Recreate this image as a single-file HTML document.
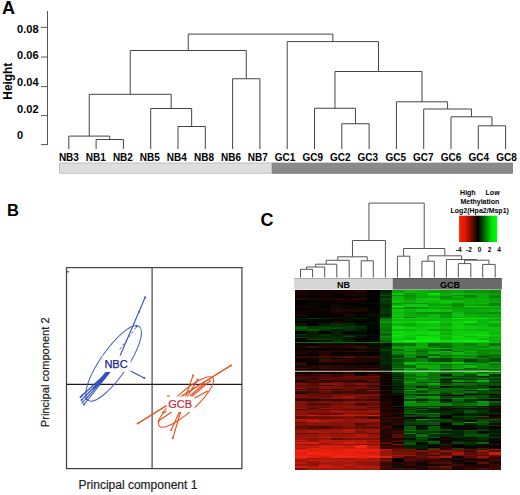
<!DOCTYPE html>
<html><head><meta charset="utf-8"><style>
html,body{margin:0;padding:0;background:#fff;width:520px;height:495px;overflow:hidden}
svg{display:block}
text{font-family:"Liberation Sans",sans-serif}
</style></head><body>
<svg width="520" height="495" viewBox="0 0 520 495">
<text x="1.9" y="14.1" font-size="18" font-weight="bold" font-family="Liberation Sans, sans-serif">A</text>
<path d="M47.5 11V145M41 27.3H47.5M41 57H47.5M41 86.6H47.5M41 115.6H47.5M41 144.6H47.5" stroke="#555" stroke-width="1" fill="none"/>
<text x="17.1" y="32.8" font-size="11" font-weight="bold" font-family="Liberation Sans, sans-serif">0.08</text>
<text x="17.1" y="59.4" font-size="11" font-weight="bold" font-family="Liberation Sans, sans-serif">0.06</text>
<text x="17.1" y="85.9" font-size="11" font-weight="bold" font-family="Liberation Sans, sans-serif">0.04</text>
<text x="17.1" y="112.8" font-size="11" font-weight="bold" font-family="Liberation Sans, sans-serif">0.02</text>
<text x="17.1" y="138.8" font-size="11" font-weight="bold" font-family="Liberation Sans, sans-serif">0</text>
<text transform="translate(11.8,81.2) rotate(-90)" text-anchor="middle" font-size="11.9" font-weight="bold" font-family="Liberation Sans, sans-serif">Height</text>
<path d="M96.10 149.00V139.50H123.40V149.00M68.80 149.00V136.10H109.75V139.50M178.00 149.00V126.50H205.30V149.00M150.70 149.00V108.50H191.65V126.50M89.28 136.10V94.30H171.18V108.50M232.60 149.00V78.75H259.90V149.00M130.23 94.30V50.50H246.25V78.75M341.80 149.00V123.75H369.10V149.00M314.50 149.00V108.25H355.45V123.75M478.30 149.00V125.80H505.60V149.00M451.00 149.00V116.80H491.95V125.80M423.70 149.00V109.00H471.48V116.80M396.40 149.00V101.80H447.59V109.00M334.98 108.25V71.50H421.99V101.80M287.20 149.00V41.60H378.48V71.50M188.24 50.50V34.10H332.84V41.60" stroke="#444" stroke-width="1" fill="none"/>
<text x="68.90" y="160.5" text-anchor="middle" font-size="10" font-weight="bold" font-family="Liberation Sans, sans-serif">NB3</text>
<text x="95.75" y="160.5" text-anchor="middle" font-size="10" font-weight="bold" font-family="Liberation Sans, sans-serif">NB1</text>
<text x="122.90" y="160.5" text-anchor="middle" font-size="10" font-weight="bold" font-family="Liberation Sans, sans-serif">NB2</text>
<text x="149.75" y="160.5" text-anchor="middle" font-size="10" font-weight="bold" font-family="Liberation Sans, sans-serif">NB5</text>
<text x="176.75" y="160.5" text-anchor="middle" font-size="10" font-weight="bold" font-family="Liberation Sans, sans-serif">NB4</text>
<text x="204.00" y="160.5" text-anchor="middle" font-size="10" font-weight="bold" font-family="Liberation Sans, sans-serif">NB8</text>
<text x="231.00" y="160.5" text-anchor="middle" font-size="10" font-weight="bold" font-family="Liberation Sans, sans-serif">NB6</text>
<text x="257.75" y="160.5" text-anchor="middle" font-size="10" font-weight="bold" font-family="Liberation Sans, sans-serif">NB7</text>
<text x="285.00" y="160.5" text-anchor="middle" font-size="10" font-weight="bold" font-family="Liberation Sans, sans-serif">GC1</text>
<text x="312.75" y="160.5" text-anchor="middle" font-size="10" font-weight="bold" font-family="Liberation Sans, sans-serif">GC9</text>
<text x="340.25" y="160.5" text-anchor="middle" font-size="10" font-weight="bold" font-family="Liberation Sans, sans-serif">GC2</text>
<text x="367.75" y="160.5" text-anchor="middle" font-size="10" font-weight="bold" font-family="Liberation Sans, sans-serif">GC3</text>
<text x="395.75" y="160.5" text-anchor="middle" font-size="10" font-weight="bold" font-family="Liberation Sans, sans-serif">GC5</text>
<text x="423.30" y="160.5" text-anchor="middle" font-size="10" font-weight="bold" font-family="Liberation Sans, sans-serif">GC7</text>
<text x="451.10" y="160.5" text-anchor="middle" font-size="10" font-weight="bold" font-family="Liberation Sans, sans-serif">GC6</text>
<text x="478.70" y="160.5" text-anchor="middle" font-size="10" font-weight="bold" font-family="Liberation Sans, sans-serif">GC4</text>
<text x="506.50" y="160.5" text-anchor="middle" font-size="10" font-weight="bold" font-family="Liberation Sans, sans-serif">GC8</text>
<rect x="59.6" y="163" width="212.3" height="10.2" fill="#dedede" stroke="#b4b4b4" stroke-width="0.8"/>
<rect x="272.3" y="163.1" width="240.2" height="10.2" fill="#8a8a8a" stroke="#777" stroke-width="0.8"/>
<text x="7.1" y="216" font-size="16.5" font-weight="bold" font-family="Liberation Sans, sans-serif">B</text>
<rect x="66.5" y="267.6" width="175.4" height="201" fill="none" stroke="#444" stroke-width="1.25"/>
<path d="M152.1 267.6V468.6" stroke="#555" stroke-width="1.3" fill="none"/><path d="M66.5 384.4H241.9" stroke="#1a1a1a" stroke-width="1.2" fill="none"/>
<path d="M67 271.8h2.2" stroke="#555" stroke-width="1.2"/>
<text transform="translate(48.8,372.3) rotate(-90)" text-anchor="middle" font-size="11.1" fill="#222" stroke="#222" stroke-width="0.2" font-family="Liberation Sans, sans-serif">Principal component 2</text>
<text x="78.6" y="488.8" font-size="12" fill="#222" stroke="#222" stroke-width="0.2" font-family="Liberation Sans, sans-serif">Principal component 1</text>
<ellipse cx="113.6" cy="363.4" rx="45" ry="13.5" transform="rotate(-55.4 113.6 363.4)" fill="none" stroke="#4862c6" stroke-width="1.05"/>
<path d="M116.5 364.0L145.2 297.3M116.5 364.0L144.3 378.1M116.5 364.0L80.5 397.0M116.5 364.0L81.5 400.0M116.5 364.0L82.5 402.5M116.5 364.0L84.0 404.5M116.5 364.0L82.0 395.5M116.5 364.0L86.0 399.0" stroke="#3450c0" stroke-width="1.1" fill="none"/>
<path d="M107.5 372L95 387.5M106.5 372L93 389" stroke="#3450c0" stroke-width="1.6" fill="none"/>
<path d="M119.7 349.4L136.7 326.4" stroke="#3450c0" stroke-width="0.9" stroke-dasharray="2.5 2.5" fill="none"/>
<circle cx="145.2" cy="297.3" r="1" fill="#3450c0"/>
<circle cx="144.3" cy="378.1" r="1" fill="#3450c0"/>
<circle cx="80.5" cy="397.0" r="1" fill="#3450c0"/>
<circle cx="81.5" cy="400.0" r="1" fill="#3450c0"/>
<circle cx="82.5" cy="402.5" r="1" fill="#3450c0"/>
<circle cx="84.0" cy="404.5" r="1" fill="#3450c0"/>
<circle cx="82.0" cy="395.5" r="1" fill="#3450c0"/>
<circle cx="86.0" cy="399.0" r="1" fill="#3450c0"/>
<circle cx="139.1" cy="311.8" r="1" fill="#3450c0"/>
<circle cx="136.7" cy="326.4" r="1" fill="#3450c0"/>
<rect x="102.5" y="355.5" width="28" height="16.5" fill="#fff"/>
<text x="104.4" y="367.8" font-size="11" fill="#2020a0" stroke="#2020a0" stroke-width="0.25" font-family="Liberation Sans, sans-serif">NBC</text>
<ellipse cx="186" cy="402" rx="36" ry="10" transform="rotate(-42 186 402)" fill="none" stroke="#e8501e" stroke-width="1.1"/>
<path d="M183.0 404.0L172.8 438.2M183.0 404.0L171.2 430.0M183.0 404.0L158.5 421.0M183.0 404.0L193.1 375.4M183.0 404.0L197.7 379.4M183.0 404.0L210.0 381.0M183.0 404.0L206.9 391.5M183.0 404.0L163.0 413.0M183.0 404.0L168.0 396.0" stroke="#e8501e" stroke-width="1.15" fill="none"/>
<path d="M190 396L205 383M137.6 423.6L231 365.4" stroke="#e8501e" stroke-width="1.3" fill="none"/>
<circle cx="231.0" cy="365.4" r="1" fill="#e8501e"/>
<circle cx="137.6" cy="423.6" r="1" fill="#e8501e"/>
<circle cx="172.8" cy="438.2" r="1" fill="#e8501e"/>
<circle cx="171.2" cy="430.0" r="1" fill="#e8501e"/>
<circle cx="158.5" cy="421.0" r="1" fill="#e8501e"/>
<circle cx="193.1" cy="375.4" r="1" fill="#e8501e"/>
<circle cx="197.7" cy="379.4" r="1" fill="#e8501e"/>
<circle cx="210.0" cy="381.0" r="1" fill="#e8501e"/>
<circle cx="206.9" cy="391.5" r="1" fill="#e8501e"/>
<circle cx="163.0" cy="413.0" r="1" fill="#e8501e"/>
<circle cx="168.0" cy="396.0" r="1" fill="#e8501e"/>
<rect x="166.5" y="396.5" width="28" height="15.5" fill="#fff"/>
<text x="168.3" y="408" font-size="11" fill="#cc2636" stroke="#cc2636" stroke-width="0.2" font-family="Liberation Sans, sans-serif">GCB</text>
<text x="260.4" y="225.5" font-size="18" font-weight="bold" font-family="Liberation Sans, sans-serif">C</text>
<path d="M300.50 277.50V269.30H312.60V277.50M306.55 269.30V267.00H324.70V277.50M315.62 267.00V264.20H336.80V277.50M326.21 264.20V260.30H349.20V277.50M361.20 277.50V260.80H373.30V277.50M337.71 260.30V256.80H367.25V260.80M352.48 256.80V240.50H385.40V277.50M397.40 277.50V256.20H409.80V277.50M421.90 277.50V261.20H434.30V277.50M458.30 277.50V263.60H470.80V277.50M482.70 277.50V264.40H495.20V277.50M464.55 263.60V260.20H488.95V264.40M446.40 277.50V259.50H476.75V260.20M428.10 261.20V255.80H461.57V259.50M403.60 256.20V248.50H444.84V255.80M368.94 240.50V203.10H424.22V248.50" stroke="#555" stroke-width="1" fill="none"/>
<rect x="294.2" y="278" width="98.5" height="11.6" fill="#d6d6d6"/>
<rect x="392.7" y="278" width="109.2" height="11.6" fill="#6a6a6a"/>
<rect x="294.2" y="278" width="207.7" height="0.8" fill="#000" fill-opacity="0.25"/>
<text x="343.5" y="288" text-anchor="middle" font-size="9" font-weight="bold" font-family="Liberation Sans, sans-serif">NB</text>
<text x="450" y="288" text-anchor="middle" font-size="9" font-weight="bold" font-family="Liberation Sans, sans-serif">GCB</text>
<g shape-rendering="crispEdges"><rect x="294.60" y="290.30" width="12.43" height="2.65" fill="#1c0402"/><rect x="306.73" y="290.30" width="12.43" height="2.65" fill="#130301"/><rect x="318.86" y="290.30" width="12.43" height="2.65" fill="#0e0201"/><rect x="330.99" y="290.30" width="12.43" height="2.65" fill="#140301"/><rect x="343.12" y="290.30" width="12.43" height="2.65" fill="#180301"/><rect x="355.25" y="290.30" width="12.43" height="2.65" fill="#270502"/><rect x="367.38" y="290.30" width="12.43" height="2.65" fill="#000100"/><rect x="379.51" y="290.30" width="12.43" height="2.65" fill="#032402"/><rect x="391.64" y="290.30" width="12.43" height="2.65" fill="#0ba00a"/><rect x="403.76" y="290.30" width="12.43" height="2.65" fill="#0db60b"/><rect x="415.89" y="290.30" width="12.43" height="2.65" fill="#0cb20b"/><rect x="428.02" y="290.30" width="12.43" height="2.65" fill="#0ca60a"/><rect x="440.15" y="290.30" width="12.43" height="2.65" fill="#0b9d09"/><rect x="452.28" y="290.30" width="12.43" height="2.65" fill="#0ba30a"/><rect x="464.41" y="290.30" width="12.43" height="2.65" fill="#0a9009"/><rect x="476.54" y="290.30" width="12.43" height="2.65" fill="#0b9709"/><rect x="488.67" y="290.30" width="12.43" height="2.65" fill="#0a8808"/><rect x="294.60" y="292.80" width="12.43" height="2.65" fill="#1b0402"/><rect x="306.73" y="292.80" width="12.43" height="2.65" fill="#110201"/><rect x="318.86" y="292.80" width="12.43" height="2.65" fill="#160301"/><rect x="330.99" y="292.80" width="12.43" height="2.65" fill="#010000"/><rect x="343.12" y="292.80" width="12.43" height="2.65" fill="#190301"/><rect x="355.25" y="292.80" width="12.43" height="2.65" fill="#180301"/><rect x="367.38" y="292.80" width="12.43" height="2.65" fill="#050100"/><rect x="379.51" y="292.80" width="12.43" height="2.65" fill="#033103"/><rect x="391.64" y="292.80" width="12.43" height="2.65" fill="#0ec80c"/><rect x="403.76" y="292.80" width="12.43" height="2.65" fill="#0b9b09"/><rect x="415.89" y="292.80" width="12.43" height="2.65" fill="#0ca50a"/><rect x="428.02" y="292.80" width="12.43" height="2.65" fill="#0fdd0d"/><rect x="440.15" y="292.80" width="12.43" height="2.65" fill="#0cae0a"/><rect x="452.28" y="292.80" width="12.43" height="2.65" fill="#0dbf0b"/><rect x="464.41" y="292.80" width="12.43" height="2.65" fill="#0cb10b"/><rect x="476.54" y="292.80" width="12.43" height="2.65" fill="#0ca70a"/><rect x="488.67" y="292.80" width="12.43" height="2.65" fill="#0b9c09"/><rect x="294.60" y="295.30" width="12.43" height="1.15" fill="#160301"/><rect x="306.73" y="295.30" width="12.43" height="1.15" fill="#000300"/><rect x="318.86" y="295.30" width="12.43" height="1.15" fill="#0f0201"/><rect x="330.99" y="295.30" width="12.43" height="1.15" fill="#0e0201"/><rect x="343.12" y="295.30" width="12.43" height="1.15" fill="#1b0402"/><rect x="355.25" y="295.30" width="12.43" height="1.15" fill="#130301"/><rect x="367.38" y="295.30" width="12.43" height="1.15" fill="#010000"/><rect x="379.51" y="295.30" width="12.43" height="1.15" fill="#054c05"/><rect x="391.64" y="295.30" width="12.43" height="1.15" fill="#0a8d08"/><rect x="403.76" y="295.30" width="12.43" height="1.15" fill="#0a9109"/><rect x="415.89" y="295.30" width="12.43" height="1.15" fill="#0cb00b"/><rect x="428.02" y="295.30" width="12.43" height="1.15" fill="#0ec30c"/><rect x="440.15" y="295.30" width="12.43" height="1.15" fill="#0ca60a"/><rect x="452.28" y="295.30" width="12.43" height="1.15" fill="#0a8e09"/><rect x="464.41" y="295.30" width="12.43" height="1.15" fill="#098108"/><rect x="476.54" y="295.30" width="12.43" height="1.15" fill="#0cb20b"/><rect x="488.67" y="295.30" width="12.43" height="1.15" fill="#0a9009"/><rect x="294.60" y="296.30" width="12.43" height="2.15" fill="#000600"/><rect x="306.73" y="296.30" width="12.43" height="2.15" fill="#000000"/><rect x="318.86" y="296.30" width="12.43" height="2.15" fill="#0b0201"/><rect x="330.99" y="296.30" width="12.43" height="2.15" fill="#0a0101"/><rect x="343.12" y="296.30" width="12.43" height="2.15" fill="#060100"/><rect x="355.25" y="296.30" width="12.43" height="2.15" fill="#000600"/><rect x="367.38" y="296.30" width="12.43" height="2.15" fill="#000300"/><rect x="379.51" y="296.30" width="12.43" height="2.15" fill="#032a03"/><rect x="391.64" y="296.30" width="12.43" height="2.15" fill="#0db50b"/><rect x="403.76" y="296.30" width="12.43" height="2.15" fill="#0a9409"/><rect x="415.89" y="296.30" width="12.43" height="2.15" fill="#0ca80a"/><rect x="428.02" y="296.30" width="12.43" height="2.15" fill="#0cad0a"/><rect x="440.15" y="296.30" width="12.43" height="2.15" fill="#0a8e09"/><rect x="452.28" y="296.30" width="12.43" height="2.15" fill="#0cac0a"/><rect x="464.41" y="296.30" width="12.43" height="2.15" fill="#0a8c08"/><rect x="476.54" y="296.30" width="12.43" height="2.15" fill="#0ca90a"/><rect x="488.67" y="296.30" width="12.43" height="2.15" fill="#098208"/><rect x="294.60" y="298.30" width="12.43" height="2.15" fill="#270502"/><rect x="306.73" y="298.30" width="12.43" height="2.15" fill="#1d0402"/><rect x="318.86" y="298.30" width="12.43" height="2.15" fill="#1f0402"/><rect x="330.99" y="298.30" width="12.43" height="2.15" fill="#250502"/><rect x="343.12" y="298.30" width="12.43" height="2.15" fill="#1f0402"/><rect x="355.25" y="298.30" width="12.43" height="2.15" fill="#2c0603"/><rect x="367.38" y="298.30" width="12.43" height="2.15" fill="#000000"/><rect x="379.51" y="298.30" width="12.43" height="2.15" fill="#054804"/><rect x="391.64" y="298.30" width="12.43" height="2.15" fill="#0db80b"/><rect x="403.76" y="298.30" width="12.43" height="2.15" fill="#0ba30a"/><rect x="415.89" y="298.30" width="12.43" height="2.15" fill="#0ec30c"/><rect x="428.02" y="298.30" width="12.43" height="2.15" fill="#0ecb0c"/><rect x="440.15" y="298.30" width="12.43" height="2.15" fill="#0b9c09"/><rect x="452.28" y="298.30" width="12.43" height="2.15" fill="#0b9f0a"/><rect x="464.41" y="298.30" width="24.56" height="2.15" fill="#0cb10b"/><rect x="488.67" y="298.30" width="12.43" height="2.15" fill="#0b9f0a"/><rect x="294.60" y="300.30" width="12.43" height="2.65" fill="#060100"/><rect x="306.73" y="300.30" width="12.43" height="2.65" fill="#030000"/><rect x="318.86" y="300.30" width="12.43" height="2.65" fill="#0e0201"/><rect x="330.99" y="300.30" width="12.43" height="2.65" fill="#100201"/><rect x="343.12" y="300.30" width="12.43" height="2.65" fill="#150301"/><rect x="355.25" y="300.30" width="12.43" height="2.65" fill="#0b0201"/><rect x="367.38" y="300.30" width="12.43" height="2.65" fill="#000200"/><rect x="379.51" y="300.30" width="12.43" height="2.65" fill="#043d04"/><rect x="391.64" y="300.30" width="12.43" height="2.65" fill="#0ec30c"/><rect x="403.76" y="300.30" width="12.43" height="2.65" fill="#0db30b"/><rect x="415.89" y="300.30" width="12.43" height="2.65" fill="#0ec10c"/><rect x="428.02" y="300.30" width="12.43" height="2.65" fill="#0dbc0b"/><rect x="440.15" y="300.30" width="12.43" height="2.65" fill="#0ec80c"/><rect x="452.28" y="300.30" width="12.43" height="2.65" fill="#0dbd0b"/><rect x="464.41" y="300.30" width="12.43" height="2.65" fill="#0cae0a"/><rect x="476.54" y="300.30" width="12.43" height="2.65" fill="#0caf0a"/><rect x="488.67" y="300.30" width="12.43" height="2.65" fill="#0ca50a"/><rect x="294.60" y="302.80" width="12.43" height="1.65" fill="#000100"/><rect x="306.73" y="302.80" width="12.43" height="1.65" fill="#160301"/><rect x="318.86" y="302.80" width="12.43" height="1.65" fill="#000200"/><rect x="330.99" y="302.80" width="12.43" height="1.65" fill="#090101"/><rect x="343.12" y="302.80" width="12.43" height="1.65" fill="#040100"/><rect x="355.25" y="302.80" width="12.43" height="1.65" fill="#010a01"/><rect x="367.38" y="302.80" width="12.43" height="1.65" fill="#010d01"/><rect x="379.51" y="302.80" width="12.43" height="1.65" fill="#043803"/><rect x="391.64" y="302.80" width="12.43" height="1.65" fill="#0a9209"/><rect x="403.76" y="302.80" width="12.43" height="1.65" fill="#0b9909"/><rect x="415.89" y="302.80" width="12.43" height="1.65" fill="#0a8e09"/><rect x="428.02" y="302.80" width="12.43" height="1.65" fill="#0cab0a"/><rect x="440.15" y="302.80" width="12.43" height="1.65" fill="#0dbb0b"/><rect x="452.28" y="302.80" width="12.43" height="1.65" fill="#0a9409"/><rect x="464.41" y="302.80" width="12.43" height="1.65" fill="#0db60b"/><rect x="476.54" y="302.80" width="12.43" height="1.65" fill="#0dbb0b"/><rect x="488.67" y="302.80" width="12.43" height="1.65" fill="#098308"/><rect x="294.60" y="304.30" width="12.43" height="1.65" fill="#010800"/><rect x="306.73" y="304.30" width="12.43" height="1.65" fill="#010901"/><rect x="318.86" y="304.30" width="12.43" height="1.65" fill="#000600"/><rect x="330.99" y="304.30" width="12.43" height="1.65" fill="#010e01"/><rect x="343.12" y="304.30" width="12.43" height="1.65" fill="#000700"/><rect x="355.25" y="304.30" width="12.43" height="1.65" fill="#020000"/><rect x="367.38" y="304.30" width="12.43" height="1.65" fill="#000400"/><rect x="379.51" y="304.30" width="12.43" height="1.65" fill="#032c03"/><rect x="391.64" y="304.30" width="12.43" height="1.65" fill="#0caf0a"/><rect x="403.76" y="304.30" width="12.43" height="1.65" fill="#0ec30c"/><rect x="415.89" y="304.30" width="12.43" height="1.65" fill="#0ec60c"/><rect x="428.02" y="304.30" width="12.43" height="1.65" fill="#0ba00a"/><rect x="440.15" y="304.30" width="12.43" height="1.65" fill="#0ba10a"/><rect x="452.28" y="304.30" width="12.43" height="1.65" fill="#0a8b08"/><rect x="464.41" y="304.30" width="12.43" height="1.65" fill="#0ca50a"/><rect x="476.54" y="304.30" width="12.43" height="1.65" fill="#0b9909"/><rect x="488.67" y="304.30" width="12.43" height="1.65" fill="#098608"/><rect x="294.60" y="305.80" width="12.43" height="1.15" fill="#0c0201"/><rect x="306.73" y="305.80" width="12.43" height="1.15" fill="#0b0201"/><rect x="318.86" y="305.80" width="12.43" height="1.15" fill="#090101"/><rect x="330.99" y="305.80" width="12.43" height="1.15" fill="#120301"/><rect x="343.12" y="305.80" width="12.43" height="1.15" fill="#150301"/><rect x="355.25" y="305.80" width="12.43" height="1.15" fill="#040100"/><rect x="367.38" y="305.80" width="12.43" height="1.15" fill="#080100"/><rect x="379.51" y="305.80" width="12.43" height="1.15" fill="#022202"/><rect x="391.64" y="305.80" width="12.43" height="1.15" fill="#11f20f"/><rect x="403.76" y="305.80" width="12.43" height="1.15" fill="#0ece0c"/><rect x="415.89" y="305.80" width="12.43" height="1.15" fill="#0ecc0c"/><rect x="428.02" y="305.80" width="12.43" height="1.15" fill="#0db70b"/><rect x="440.15" y="305.80" width="12.43" height="1.15" fill="#0dbc0b"/><rect x="452.28" y="305.80" width="12.43" height="1.15" fill="#0b9a09"/><rect x="464.41" y="305.80" width="12.43" height="1.15" fill="#0ece0c"/><rect x="476.54" y="305.80" width="12.43" height="1.15" fill="#0ec80c"/><rect x="488.67" y="305.80" width="12.43" height="1.15" fill="#0db80b"/><rect x="294.60" y="306.80" width="12.43" height="1.65" fill="#140301"/><rect x="306.73" y="306.80" width="12.43" height="1.65" fill="#150301"/><rect x="318.86" y="306.80" width="12.43" height="1.65" fill="#050100"/><rect x="330.99" y="306.80" width="12.43" height="1.65" fill="#190301"/><rect x="343.12" y="306.80" width="12.43" height="1.65" fill="#130301"/><rect x="355.25" y="306.80" width="12.43" height="1.65" fill="#070100"/><rect x="367.38" y="306.80" width="12.43" height="1.65" fill="#000500"/><rect x="379.51" y="306.80" width="12.43" height="1.65" fill="#032c03"/><rect x="391.64" y="306.80" width="12.43" height="1.65" fill="#0db60b"/><rect x="403.76" y="306.80" width="12.43" height="1.65" fill="#087607"/><rect x="415.89" y="306.80" width="12.43" height="1.65" fill="#0a9509"/><rect x="428.02" y="306.80" width="12.43" height="1.65" fill="#0cac0a"/><rect x="440.15" y="306.80" width="12.43" height="1.65" fill="#0cae0a"/><rect x="452.28" y="306.80" width="12.43" height="1.65" fill="#0b9d09"/><rect x="464.41" y="306.80" width="12.43" height="1.65" fill="#0ca80a"/><rect x="476.54" y="306.80" width="12.43" height="1.65" fill="#0cab0a"/><rect x="488.67" y="306.80" width="12.43" height="1.65" fill="#0ca90a"/><rect x="294.60" y="308.30" width="12.43" height="1.15" fill="#000000"/><rect x="306.73" y="308.30" width="12.43" height="1.15" fill="#090101"/><rect x="318.86" y="308.30" width="12.43" height="1.15" fill="#010c01"/><rect x="330.99" y="308.30" width="12.43" height="1.15" fill="#010f01"/><rect x="343.12" y="308.30" width="12.43" height="1.15" fill="#010d01"/><rect x="355.25" y="308.30" width="12.43" height="1.15" fill="#021a02"/><rect x="367.38" y="308.30" width="12.43" height="1.15" fill="#000500"/><rect x="379.51" y="308.30" width="12.43" height="1.15" fill="#043803"/><rect x="391.64" y="308.30" width="12.43" height="1.15" fill="#0a9509"/><rect x="403.76" y="308.30" width="12.43" height="1.15" fill="#0b9709"/><rect x="415.89" y="308.30" width="12.43" height="1.15" fill="#0a8e09"/><rect x="428.02" y="308.30" width="12.43" height="1.15" fill="#0ba20a"/><rect x="440.15" y="308.30" width="12.43" height="1.15" fill="#0a8808"/><rect x="452.28" y="308.30" width="12.43" height="1.15" fill="#0b9e09"/><rect x="464.41" y="308.30" width="12.43" height="1.15" fill="#0a9609"/><rect x="476.54" y="308.30" width="12.43" height="1.15" fill="#0b9d09"/><rect x="488.67" y="308.30" width="12.43" height="1.15" fill="#0b9c09"/><rect x="294.60" y="309.30" width="12.43" height="2.65" fill="#0d0201"/><rect x="306.73" y="309.30" width="12.43" height="2.65" fill="#0c0201"/><rect x="318.86" y="309.30" width="12.43" height="2.65" fill="#100201"/><rect x="330.99" y="309.30" width="12.43" height="2.65" fill="#250502"/><rect x="343.12" y="309.30" width="12.43" height="2.65" fill="#1e0402"/><rect x="355.25" y="309.30" width="12.43" height="2.65" fill="#1f0402"/><rect x="367.38" y="309.30" width="12.43" height="2.65" fill="#0b0101"/><rect x="379.51" y="309.30" width="12.43" height="2.65" fill="#043603"/><rect x="391.64" y="309.30" width="12.43" height="2.65" fill="#0ec80c"/><rect x="403.76" y="309.30" width="12.43" height="2.65" fill="#0db50b"/><rect x="415.89" y="309.30" width="12.43" height="2.65" fill="#0ec80c"/><rect x="428.02" y="309.30" width="12.43" height="2.65" fill="#0ecc0c"/><rect x="440.15" y="309.30" width="12.43" height="2.65" fill="#0ec20c"/><rect x="452.28" y="309.30" width="12.43" height="2.65" fill="#0cab0a"/><rect x="464.41" y="309.30" width="12.43" height="2.65" fill="#0ca60a"/><rect x="476.54" y="309.30" width="12.43" height="2.65" fill="#0cab0a"/><rect x="488.67" y="309.30" width="12.43" height="2.65" fill="#0db30b"/><rect x="294.60" y="311.80" width="12.43" height="2.65" fill="#120201"/><rect x="306.73" y="311.80" width="12.43" height="2.65" fill="#050100"/><rect x="318.86" y="311.80" width="12.43" height="2.65" fill="#000600"/><rect x="330.99" y="311.80" width="12.43" height="2.65" fill="#160301"/><rect x="343.12" y="311.80" width="12.43" height="2.65" fill="#100201"/><rect x="355.25" y="311.80" width="12.43" height="2.65" fill="#000500"/><rect x="367.38" y="311.80" width="12.43" height="2.65" fill="#010901"/><rect x="379.51" y="311.80" width="12.43" height="2.65" fill="#043903"/><rect x="391.64" y="311.80" width="12.43" height="2.65" fill="#0db90b"/><rect x="403.76" y="311.80" width="12.43" height="2.65" fill="#0ca80a"/><rect x="415.89" y="311.80" width="12.43" height="2.65" fill="#0a9209"/><rect x="428.02" y="311.80" width="12.43" height="2.65" fill="#0a8a08"/><rect x="440.15" y="311.80" width="12.43" height="2.65" fill="#0a8c08"/><rect x="452.28" y="311.80" width="12.43" height="2.65" fill="#0db90b"/><rect x="464.41" y="311.80" width="12.43" height="2.65" fill="#0b9d09"/><rect x="476.54" y="311.80" width="12.43" height="2.65" fill="#0b9709"/><rect x="488.67" y="311.80" width="12.43" height="2.65" fill="#0a8a08"/><rect x="294.60" y="314.30" width="12.43" height="2.65" fill="#190402"/><rect x="306.73" y="314.30" width="12.43" height="2.65" fill="#020000"/><rect x="318.86" y="314.30" width="12.43" height="2.65" fill="#0e0201"/><rect x="330.99" y="314.30" width="12.43" height="2.65" fill="#080100"/><rect x="343.12" y="314.30" width="12.43" height="2.65" fill="#200502"/><rect x="355.25" y="314.30" width="12.43" height="2.65" fill="#0a0101"/><rect x="367.38" y="314.30" width="12.43" height="2.65" fill="#011201"/><rect x="379.51" y="314.30" width="12.43" height="2.65" fill="#032a03"/><rect x="391.64" y="314.30" width="12.43" height="2.65" fill="#0ec40c"/><rect x="403.76" y="314.30" width="12.43" height="2.65" fill="#0cae0a"/><rect x="415.89" y="314.30" width="12.43" height="2.65" fill="#0ca60a"/><rect x="428.02" y="314.30" width="12.43" height="2.65" fill="#0dbb0b"/><rect x="440.15" y="314.30" width="12.43" height="2.65" fill="#0b9c09"/><rect x="452.28" y="314.30" width="12.43" height="2.65" fill="#0ec30c"/><rect x="464.41" y="314.30" width="12.43" height="2.65" fill="#0caf0a"/><rect x="476.54" y="314.30" width="12.43" height="2.65" fill="#0ca70a"/><rect x="488.67" y="314.30" width="12.43" height="2.65" fill="#0cab0a"/><rect x="294.60" y="316.80" width="12.43" height="1.15" fill="#050100"/><rect x="306.73" y="316.80" width="12.43" height="1.15" fill="#000100"/><rect x="318.86" y="316.80" width="12.43" height="1.15" fill="#0f0201"/><rect x="330.99" y="316.80" width="12.43" height="1.15" fill="#010b01"/><rect x="343.12" y="316.80" width="12.43" height="1.15" fill="#010a01"/><rect x="355.25" y="316.80" width="12.43" height="1.15" fill="#000600"/><rect x="367.38" y="316.80" width="12.43" height="1.15" fill="#000200"/><rect x="379.51" y="316.80" width="12.43" height="1.15" fill="#054704"/><rect x="391.64" y="316.80" width="12.43" height="1.15" fill="#0cb10b"/><rect x="403.76" y="316.80" width="12.43" height="1.15" fill="#097d07"/><rect x="415.89" y="316.80" width="12.43" height="1.15" fill="#0db60b"/><rect x="428.02" y="316.80" width="12.43" height="1.15" fill="#0db50b"/><rect x="440.15" y="316.80" width="12.43" height="1.15" fill="#0b9909"/><rect x="452.28" y="316.80" width="12.43" height="1.15" fill="#0ba20a"/><rect x="464.41" y="316.80" width="12.43" height="1.15" fill="#0dbb0b"/><rect x="476.54" y="316.80" width="24.56" height="1.15" fill="#0cac0a"/><rect x="294.60" y="317.80" width="12.43" height="1.65" fill="#021d02"/><rect x="306.73" y="317.80" width="12.43" height="1.65" fill="#043903"/><rect x="318.86" y="317.80" width="12.43" height="1.65" fill="#022102"/><rect x="330.99" y="317.80" width="12.43" height="1.65" fill="#021701"/><rect x="343.12" y="317.80" width="12.43" height="1.65" fill="#011401"/><rect x="355.25" y="317.80" width="12.43" height="1.65" fill="#032402"/><rect x="367.38" y="317.80" width="12.43" height="1.65" fill="#010c01"/><rect x="379.51" y="317.80" width="12.43" height="1.65" fill="#086f07"/><rect x="391.64" y="317.80" width="12.43" height="1.65" fill="#0fdb0d"/><rect x="403.76" y="317.80" width="12.43" height="1.65" fill="#0ec90c"/><rect x="415.89" y="317.80" width="12.43" height="1.65" fill="#0fd20d"/><rect x="428.02" y="317.80" width="12.43" height="1.65" fill="#0ec90c"/><rect x="440.15" y="317.80" width="12.43" height="1.65" fill="#0dbc0b"/><rect x="452.28" y="317.80" width="12.43" height="1.65" fill="#11ec0e"/><rect x="464.41" y="317.80" width="12.43" height="1.65" fill="#0fd80d"/><rect x="476.54" y="317.80" width="12.43" height="1.65" fill="#10e20e"/><rect x="488.67" y="317.80" width="12.43" height="1.65" fill="#0ec90c"/><rect x="294.60" y="319.30" width="12.43" height="1.65" fill="#011001"/><rect x="306.73" y="319.30" width="12.43" height="1.65" fill="#060100"/><rect x="318.86" y="319.30" width="12.43" height="1.65" fill="#000500"/><rect x="330.99" y="319.30" width="12.43" height="1.65" fill="#000000"/><rect x="343.12" y="319.30" width="12.43" height="1.65" fill="#010c01"/><rect x="355.25" y="319.30" width="12.43" height="1.65" fill="#010901"/><rect x="367.38" y="319.30" width="12.43" height="1.65" fill="#000400"/><rect x="379.51" y="319.30" width="12.43" height="1.65" fill="#097e08"/><rect x="391.64" y="319.30" width="12.43" height="1.65" fill="#0db70b"/><rect x="403.76" y="319.30" width="12.43" height="1.65" fill="#0dbc0b"/><rect x="415.89" y="319.30" width="12.43" height="1.65" fill="#0db80b"/><rect x="428.02" y="319.30" width="12.43" height="1.65" fill="#0db50b"/><rect x="440.15" y="319.30" width="12.43" height="1.65" fill="#0db90b"/><rect x="452.28" y="319.30" width="12.43" height="1.65" fill="#0dbd0b"/><rect x="464.41" y="319.30" width="12.43" height="1.65" fill="#0ec20c"/><rect x="476.54" y="319.30" width="12.43" height="1.65" fill="#0dba0b"/><rect x="488.67" y="319.30" width="12.43" height="1.65" fill="#0caa0a"/><rect x="294.60" y="320.80" width="12.43" height="2.65" fill="#000100"/><rect x="306.73" y="320.80" width="12.43" height="2.65" fill="#000600"/><rect x="318.86" y="320.80" width="12.43" height="2.65" fill="#050100"/><rect x="330.99" y="320.80" width="12.43" height="2.65" fill="#1f0402"/><rect x="343.12" y="320.80" width="12.43" height="2.65" fill="#010a01"/><rect x="355.25" y="320.80" width="12.43" height="2.65" fill="#000200"/><rect x="367.38" y="320.80" width="12.43" height="2.65" fill="#010f01"/><rect x="379.51" y="320.80" width="12.43" height="2.65" fill="#0b9b09"/><rect x="391.64" y="320.80" width="12.43" height="2.65" fill="#0fd10d"/><rect x="403.76" y="320.80" width="12.43" height="2.65" fill="#0ecb0c"/><rect x="415.89" y="320.80" width="12.43" height="2.65" fill="#0fdb0d"/><rect x="428.02" y="320.80" width="12.43" height="2.65" fill="#10e20e"/><rect x="440.15" y="320.80" width="12.43" height="2.65" fill="#0ec30c"/><rect x="452.28" y="320.80" width="12.43" height="2.65" fill="#0fd20d"/><rect x="464.41" y="320.80" width="12.43" height="2.65" fill="#10e50e"/><rect x="476.54" y="320.80" width="12.43" height="2.65" fill="#0cb30b"/><rect x="488.67" y="320.80" width="12.43" height="2.65" fill="#0eca0c"/><rect x="294.60" y="323.30" width="12.43" height="2.65" fill="#021902"/><rect x="306.73" y="323.30" width="12.43" height="2.65" fill="#000000"/><rect x="318.86" y="323.30" width="12.43" height="2.65" fill="#022202"/><rect x="330.99" y="323.30" width="12.43" height="2.65" fill="#033103"/><rect x="343.12" y="323.30" width="12.43" height="2.65" fill="#032802"/><rect x="355.25" y="323.30" width="12.43" height="2.65" fill="#010d01"/><rect x="367.38" y="323.30" width="12.43" height="2.65" fill="#010c01"/><rect x="379.51" y="323.30" width="12.43" height="2.65" fill="#097b07"/><rect x="391.64" y="323.30" width="12.43" height="2.65" fill="#0db80b"/><rect x="403.76" y="323.30" width="12.43" height="2.65" fill="#0caa0a"/><rect x="415.89" y="323.30" width="12.43" height="2.65" fill="#0dbd0b"/><rect x="428.02" y="323.30" width="12.43" height="2.65" fill="#0ec70c"/><rect x="440.15" y="323.30" width="12.43" height="2.65" fill="#0cad0a"/><rect x="452.28" y="323.30" width="12.43" height="2.65" fill="#0ecb0c"/><rect x="464.41" y="323.30" width="12.43" height="2.65" fill="#0cae0a"/><rect x="476.54" y="323.30" width="12.43" height="2.65" fill="#0db60b"/><rect x="488.67" y="323.30" width="12.43" height="2.65" fill="#0ca50a"/><rect x="294.60" y="325.80" width="12.43" height="1.65" fill="#054704"/><rect x="306.73" y="325.80" width="12.43" height="1.65" fill="#043a03"/><rect x="318.86" y="325.80" width="12.43" height="1.65" fill="#043e04"/><rect x="330.99" y="325.80" width="12.43" height="1.65" fill="#032802"/><rect x="343.12" y="325.80" width="12.43" height="1.65" fill="#054204"/><rect x="355.25" y="325.80" width="12.43" height="1.65" fill="#043a04"/><rect x="367.38" y="325.80" width="12.43" height="1.65" fill="#000200"/><rect x="379.51" y="325.80" width="12.43" height="1.65" fill="#098108"/><rect x="391.64" y="325.80" width="12.43" height="1.65" fill="#0fd90d"/><rect x="403.76" y="325.80" width="12.43" height="1.65" fill="#0dc00b"/><rect x="415.89" y="325.80" width="12.43" height="1.65" fill="#0ec20c"/><rect x="428.02" y="325.80" width="12.43" height="1.65" fill="#0dbf0b"/><rect x="440.15" y="325.80" width="12.43" height="1.65" fill="#0db80b"/><rect x="452.28" y="325.80" width="24.56" height="1.65" fill="#0fd00c"/><rect x="476.54" y="325.80" width="12.43" height="1.65" fill="#0ec50c"/><rect x="488.67" y="325.80" width="12.43" height="1.65" fill="#0ba40a"/><rect x="294.60" y="327.30" width="12.43" height="1.65" fill="#076106"/><rect x="306.73" y="327.30" width="12.43" height="1.65" fill="#043b04"/><rect x="318.86" y="327.30" width="12.43" height="1.65" fill="#054804"/><rect x="330.99" y="327.30" width="12.43" height="1.65" fill="#054904"/><rect x="343.12" y="327.30" width="12.43" height="1.65" fill="#043603"/><rect x="355.25" y="327.30" width="12.43" height="1.65" fill="#032a03"/><rect x="367.38" y="327.30" width="12.43" height="1.65" fill="#010a01"/><rect x="379.51" y="327.30" width="12.43" height="1.65" fill="#087807"/><rect x="391.64" y="327.30" width="12.43" height="1.65" fill="#0fdb0d"/><rect x="403.76" y="327.30" width="12.43" height="1.65" fill="#0fd10d"/><rect x="415.89" y="327.30" width="12.43" height="1.65" fill="#0ec90c"/><rect x="428.02" y="327.30" width="12.43" height="1.65" fill="#0fd10d"/><rect x="440.15" y="327.30" width="12.43" height="1.65" fill="#0dc00c"/><rect x="452.28" y="327.30" width="12.43" height="1.65" fill="#0ece0c"/><rect x="464.41" y="327.30" width="12.43" height="1.65" fill="#0eca0c"/><rect x="476.54" y="327.30" width="12.43" height="1.65" fill="#0ec60c"/><rect x="488.67" y="327.30" width="12.43" height="1.65" fill="#0ec10c"/><rect x="294.60" y="328.80" width="12.43" height="2.65" fill="#054404"/><rect x="306.73" y="328.80" width="12.43" height="2.65" fill="#065205"/><rect x="318.86" y="328.80" width="12.43" height="2.65" fill="#043703"/><rect x="330.99" y="328.80" width="12.43" height="2.65" fill="#021f02"/><rect x="343.12" y="328.80" width="12.43" height="2.65" fill="#033003"/><rect x="355.25" y="328.80" width="12.43" height="2.65" fill="#021c02"/><rect x="367.38" y="328.80" width="12.43" height="2.65" fill="#000200"/><rect x="379.51" y="328.80" width="12.43" height="2.65" fill="#087207"/><rect x="391.64" y="328.80" width="12.43" height="2.65" fill="#0dbf0b"/><rect x="403.76" y="328.80" width="12.43" height="2.65" fill="#0dba0b"/><rect x="415.89" y="328.80" width="12.43" height="2.65" fill="#0ec80c"/><rect x="428.02" y="328.80" width="12.43" height="2.65" fill="#0cac0a"/><rect x="440.15" y="328.80" width="12.43" height="2.65" fill="#0ba30a"/><rect x="452.28" y="328.80" width="12.43" height="2.65" fill="#0ec20c"/><rect x="464.41" y="328.80" width="12.43" height="2.65" fill="#0dbc0b"/><rect x="476.54" y="328.80" width="12.43" height="2.65" fill="#0cb20b"/><rect x="488.67" y="328.80" width="12.43" height="2.65" fill="#0ec10c"/><rect x="294.60" y="331.30" width="12.43" height="2.65" fill="#060100"/><rect x="306.73" y="331.30" width="12.43" height="2.65" fill="#021f02"/><rect x="318.86" y="331.30" width="12.43" height="2.65" fill="#010000"/><rect x="330.99" y="331.30" width="12.43" height="2.65" fill="#022202"/><rect x="343.12" y="331.30" width="12.43" height="2.65" fill="#020000"/><rect x="355.25" y="331.30" width="12.43" height="2.65" fill="#010d01"/><rect x="367.38" y="331.30" width="12.43" height="2.65" fill="#000300"/><rect x="379.51" y="331.30" width="12.43" height="2.65" fill="#097c07"/><rect x="391.64" y="331.30" width="12.43" height="2.65" fill="#0fda0d"/><rect x="403.76" y="331.30" width="12.43" height="2.65" fill="#0fd00c"/><rect x="415.89" y="331.30" width="12.43" height="2.65" fill="#0fd90d"/><rect x="428.02" y="331.30" width="12.43" height="2.65" fill="#0fdb0d"/><rect x="440.15" y="331.30" width="12.43" height="2.65" fill="#0db80b"/><rect x="452.28" y="331.30" width="12.43" height="2.65" fill="#0ecc0c"/><rect x="464.41" y="331.30" width="12.43" height="2.65" fill="#0ec90c"/><rect x="476.54" y="331.30" width="12.43" height="2.65" fill="#0fcf0c"/><rect x="488.67" y="331.30" width="12.43" height="2.65" fill="#0db80b"/><rect x="294.60" y="333.80" width="12.43" height="1.15" fill="#043403"/><rect x="306.73" y="333.80" width="12.43" height="1.15" fill="#011001"/><rect x="318.86" y="333.80" width="12.43" height="1.15" fill="#032602"/><rect x="330.99" y="333.80" width="12.43" height="1.15" fill="#022002"/><rect x="343.12" y="333.80" width="12.43" height="1.15" fill="#011201"/><rect x="355.25" y="333.80" width="12.43" height="1.15" fill="#000700"/><rect x="367.38" y="333.80" width="12.43" height="1.15" fill="#010d01"/><rect x="379.51" y="333.80" width="12.43" height="1.15" fill="#054e05"/><rect x="391.64" y="333.80" width="12.43" height="1.15" fill="#0ecf0c"/><rect x="403.76" y="333.80" width="12.43" height="1.15" fill="#0fdc0d"/><rect x="415.89" y="333.80" width="12.43" height="1.15" fill="#0ecb0c"/><rect x="428.02" y="333.80" width="12.43" height="1.15" fill="#0fd80d"/><rect x="440.15" y="333.80" width="12.43" height="1.15" fill="#0ba20a"/><rect x="452.28" y="333.80" width="12.43" height="1.15" fill="#0fd20d"/><rect x="464.41" y="333.80" width="12.43" height="1.15" fill="#10e10e"/><rect x="476.54" y="333.80" width="12.43" height="1.15" fill="#0fd60d"/><rect x="488.67" y="333.80" width="12.43" height="1.15" fill="#0db80b"/><rect x="294.60" y="334.80" width="12.43" height="1.15" fill="#022302"/><rect x="306.73" y="334.80" width="12.43" height="1.15" fill="#032402"/><rect x="318.86" y="334.80" width="12.43" height="1.15" fill="#043803"/><rect x="330.99" y="334.80" width="12.43" height="1.15" fill="#021801"/><rect x="343.12" y="334.80" width="12.43" height="1.15" fill="#032c03"/><rect x="355.25" y="334.80" width="12.43" height="1.15" fill="#032502"/><rect x="367.38" y="334.80" width="12.43" height="1.15" fill="#010801"/><rect x="379.51" y="334.80" width="12.43" height="1.15" fill="#086e07"/><rect x="391.64" y="334.80" width="12.43" height="1.15" fill="#10e50e"/><rect x="403.76" y="334.80" width="12.43" height="1.15" fill="#0ec70c"/><rect x="415.89" y="334.80" width="12.43" height="1.15" fill="#0dbd0b"/><rect x="428.02" y="334.80" width="12.43" height="1.15" fill="#0ec90c"/><rect x="440.15" y="334.80" width="12.43" height="1.15" fill="#0ecd0c"/><rect x="452.28" y="334.80" width="12.43" height="1.15" fill="#0ec40c"/><rect x="464.41" y="334.80" width="12.43" height="1.15" fill="#0fd20d"/><rect x="476.54" y="334.80" width="12.43" height="1.15" fill="#10e20e"/><rect x="488.67" y="334.80" width="12.43" height="1.15" fill="#0fd00d"/><rect x="294.60" y="335.80" width="12.43" height="1.15" fill="#010e01"/><rect x="306.73" y="335.80" width="12.43" height="1.15" fill="#022102"/><rect x="318.86" y="335.80" width="12.43" height="1.15" fill="#032902"/><rect x="330.99" y="335.80" width="12.43" height="1.15" fill="#022102"/><rect x="343.12" y="335.80" width="12.43" height="1.15" fill="#054404"/><rect x="355.25" y="335.80" width="12.43" height="1.15" fill="#021801"/><rect x="367.38" y="335.80" width="12.43" height="1.15" fill="#040100"/><rect x="379.51" y="335.80" width="12.43" height="1.15" fill="#0a8e09"/><rect x="391.64" y="335.80" width="12.43" height="1.15" fill="#0fd60d"/><rect x="403.76" y="335.80" width="12.43" height="1.15" fill="#0eca0c"/><rect x="415.89" y="335.80" width="12.43" height="1.15" fill="#10de0d"/><rect x="428.02" y="335.80" width="12.43" height="1.15" fill="#0fd60d"/><rect x="440.15" y="335.80" width="12.43" height="1.15" fill="#0dbd0b"/><rect x="452.28" y="335.80" width="12.43" height="1.15" fill="#0fdc0d"/><rect x="464.41" y="335.80" width="12.43" height="1.15" fill="#0dc00c"/><rect x="476.54" y="335.80" width="12.43" height="1.15" fill="#0ec30c"/><rect x="488.67" y="335.80" width="12.43" height="1.15" fill="#0dbc0b"/><rect x="294.60" y="336.80" width="12.43" height="1.65" fill="#054104"/><rect x="306.73" y="336.80" width="12.43" height="1.65" fill="#032402"/><rect x="318.86" y="336.80" width="12.43" height="1.65" fill="#022202"/><rect x="330.99" y="336.80" width="12.43" height="1.65" fill="#043203"/><rect x="343.12" y="336.80" width="12.43" height="1.65" fill="#021d02"/><rect x="355.25" y="336.80" width="12.43" height="1.65" fill="#021601"/><rect x="367.38" y="336.80" width="12.43" height="1.65" fill="#010a01"/><rect x="379.51" y="336.80" width="12.43" height="1.65" fill="#097d07"/><rect x="391.64" y="336.80" width="12.43" height="1.65" fill="#0fd80d"/><rect x="403.76" y="336.80" width="12.43" height="1.65" fill="#0dc00c"/><rect x="415.89" y="336.80" width="12.43" height="1.65" fill="#10e00d"/><rect x="428.02" y="336.80" width="12.43" height="1.65" fill="#10dd0d"/><rect x="440.15" y="336.80" width="12.43" height="1.65" fill="#0dbc0b"/><rect x="452.28" y="336.80" width="12.43" height="1.65" fill="#0fd10d"/><rect x="464.41" y="336.80" width="12.43" height="1.65" fill="#0ec60c"/><rect x="476.54" y="336.80" width="12.43" height="1.65" fill="#0fdd0d"/><rect x="488.67" y="336.80" width="12.43" height="1.65" fill="#0db30b"/><rect x="294.60" y="338.30" width="12.43" height="1.65" fill="#000500"/><rect x="306.73" y="338.30" width="12.43" height="1.65" fill="#043403"/><rect x="318.86" y="338.30" width="12.43" height="1.65" fill="#043903"/><rect x="330.99" y="338.30" width="12.43" height="1.65" fill="#032a03"/><rect x="343.12" y="338.30" width="12.43" height="1.65" fill="#021701"/><rect x="355.25" y="338.30" width="12.43" height="1.65" fill="#010000"/><rect x="367.38" y="338.30" width="12.43" height="1.65" fill="#010800"/><rect x="379.51" y="338.30" width="12.43" height="1.65" fill="#087807"/><rect x="391.64" y="338.30" width="12.43" height="1.65" fill="#0ec80c"/><rect x="403.76" y="338.30" width="12.43" height="1.65" fill="#0dbc0b"/><rect x="415.89" y="338.30" width="12.43" height="1.65" fill="#10e00d"/><rect x="428.02" y="338.30" width="12.43" height="1.65" fill="#10e50e"/><rect x="440.15" y="338.30" width="12.43" height="1.65" fill="#0db30b"/><rect x="452.28" y="338.30" width="12.43" height="1.65" fill="#0fd40d"/><rect x="464.41" y="338.30" width="12.43" height="1.65" fill="#0fd00c"/><rect x="476.54" y="338.30" width="12.43" height="1.65" fill="#0db80b"/><rect x="488.67" y="338.30" width="12.43" height="1.65" fill="#0dba0b"/><rect x="294.60" y="339.80" width="12.43" height="2.15" fill="#010b01"/><rect x="306.73" y="339.80" width="12.43" height="2.15" fill="#010c01"/><rect x="318.86" y="339.80" width="12.43" height="2.15" fill="#021601"/><rect x="330.99" y="339.80" width="12.43" height="2.15" fill="#043303"/><rect x="343.12" y="339.80" width="12.43" height="2.15" fill="#021f02"/><rect x="355.25" y="339.80" width="12.43" height="2.15" fill="#000600"/><rect x="367.38" y="339.80" width="12.43" height="2.15" fill="#010c01"/><rect x="379.51" y="339.80" width="12.43" height="2.15" fill="#076706"/><rect x="391.64" y="339.80" width="12.43" height="2.15" fill="#10e20e"/><rect x="403.76" y="339.80" width="12.43" height="2.15" fill="#11f50f"/><rect x="415.89" y="339.80" width="24.56" height="2.15" fill="#11ed0e"/><rect x="440.15" y="339.80" width="12.43" height="2.15" fill="#10e00d"/><rect x="452.28" y="339.80" width="12.43" height="2.15" fill="#10e20e"/><rect x="464.41" y="339.80" width="12.43" height="2.15" fill="#11ee0e"/><rect x="476.54" y="339.80" width="12.43" height="2.15" fill="#10e30e"/><rect x="488.67" y="339.80" width="12.43" height="2.15" fill="#0db40b"/><rect x="294.60" y="341.80" width="12.43" height="1.65" fill="#086c07"/><rect x="306.73" y="341.80" width="12.43" height="1.65" fill="#087207"/><rect x="318.86" y="341.80" width="12.43" height="1.65" fill="#086d07"/><rect x="330.99" y="341.80" width="12.43" height="1.65" fill="#086c06"/><rect x="343.12" y="341.80" width="12.43" height="1.65" fill="#076706"/><rect x="355.25" y="341.80" width="12.43" height="1.65" fill="#086d07"/><rect x="367.38" y="341.80" width="12.43" height="1.65" fill="#087607"/><rect x="379.51" y="341.80" width="12.43" height="1.65" fill="#087107"/><rect x="391.64" y="341.80" width="12.43" height="1.65" fill="#0ecc0c"/><rect x="403.76" y="341.80" width="12.43" height="1.65" fill="#0ec60c"/><rect x="415.89" y="341.80" width="12.43" height="1.65" fill="#0ec70c"/><rect x="428.02" y="341.80" width="12.43" height="1.65" fill="#0ec50c"/><rect x="440.15" y="341.80" width="12.43" height="1.65" fill="#0db80b"/><rect x="452.28" y="341.80" width="12.43" height="1.65" fill="#0eca0c"/><rect x="464.41" y="341.80" width="24.56" height="1.65" fill="#0ec80c"/><rect x="488.67" y="341.80" width="12.43" height="1.65" fill="#0db80b"/><rect x="294.60" y="343.30" width="12.43" height="2.65" fill="#0c0201"/><rect x="306.73" y="343.30" width="12.43" height="2.65" fill="#000000"/><rect x="318.86" y="343.30" width="12.43" height="2.65" fill="#170301"/><rect x="330.99" y="343.30" width="12.43" height="2.65" fill="#0f0201"/><rect x="343.12" y="343.30" width="12.43" height="2.65" fill="#1c0402"/><rect x="355.25" y="343.30" width="12.43" height="2.65" fill="#110201"/><rect x="367.38" y="343.30" width="12.43" height="2.65" fill="#011001"/><rect x="379.51" y="343.30" width="12.43" height="2.65" fill="#011501"/><rect x="391.64" y="343.30" width="12.43" height="2.65" fill="#076a06"/><rect x="403.76" y="343.30" width="12.43" height="2.65" fill="#087207"/><rect x="415.89" y="343.30" width="12.43" height="2.65" fill="#0ca80a"/><rect x="428.02" y="343.30" width="12.43" height="2.65" fill="#075f06"/><rect x="440.15" y="343.30" width="12.43" height="2.65" fill="#087407"/><rect x="452.28" y="343.30" width="12.43" height="2.65" fill="#0a9509"/><rect x="464.41" y="343.30" width="12.43" height="2.65" fill="#098308"/><rect x="476.54" y="343.30" width="12.43" height="2.65" fill="#0b9f0a"/><rect x="488.67" y="343.30" width="12.43" height="2.65" fill="#086d07"/><rect x="294.60" y="345.80" width="12.43" height="2.15" fill="#1e0402"/><rect x="306.73" y="345.80" width="12.43" height="2.15" fill="#440904"/><rect x="318.86" y="345.80" width="24.56" height="2.15" fill="#220502"/><rect x="343.12" y="345.80" width="12.43" height="2.15" fill="#2e0603"/><rect x="355.25" y="345.80" width="12.43" height="2.15" fill="#410904"/><rect x="367.38" y="345.80" width="12.43" height="2.15" fill="#130301"/><rect x="379.51" y="345.80" width="12.43" height="2.15" fill="#022302"/><rect x="391.64" y="345.80" width="12.43" height="2.15" fill="#0b9c09"/><rect x="403.76" y="345.80" width="12.43" height="2.15" fill="#0caa0a"/><rect x="415.89" y="345.80" width="12.43" height="2.15" fill="#0cad0a"/><rect x="428.02" y="345.80" width="12.43" height="2.15" fill="#098408"/><rect x="440.15" y="345.80" width="12.43" height="2.15" fill="#076906"/><rect x="452.28" y="345.80" width="12.43" height="2.15" fill="#0b9b09"/><rect x="464.41" y="345.80" width="12.43" height="2.15" fill="#0b9709"/><rect x="476.54" y="345.80" width="12.43" height="2.15" fill="#098208"/><rect x="488.67" y="345.80" width="12.43" height="2.15" fill="#0ca90a"/><rect x="294.60" y="347.80" width="24.56" height="1.15" fill="#000200"/><rect x="318.86" y="347.80" width="12.43" height="1.15" fill="#080100"/><rect x="330.99" y="347.80" width="12.43" height="1.15" fill="#070100"/><rect x="343.12" y="347.80" width="12.43" height="1.15" fill="#010800"/><rect x="355.25" y="347.80" width="12.43" height="1.15" fill="#021e02"/><rect x="367.38" y="347.80" width="12.43" height="1.15" fill="#021801"/><rect x="379.51" y="347.80" width="12.43" height="1.15" fill="#032802"/><rect x="391.64" y="347.80" width="24.56" height="1.15" fill="#0ba00a"/><rect x="415.89" y="347.80" width="12.43" height="1.15" fill="#0b9e09"/><rect x="428.02" y="347.80" width="12.43" height="1.15" fill="#0dba0b"/><rect x="440.15" y="347.80" width="12.43" height="1.15" fill="#0cad0a"/><rect x="452.28" y="347.80" width="12.43" height="1.15" fill="#0b9909"/><rect x="464.41" y="347.80" width="12.43" height="1.15" fill="#0a9209"/><rect x="476.54" y="347.80" width="12.43" height="1.15" fill="#0db60b"/><rect x="488.67" y="347.80" width="12.43" height="1.15" fill="#0ca50a"/><rect x="294.60" y="348.80" width="12.43" height="2.65" fill="#140301"/><rect x="306.73" y="348.80" width="12.43" height="2.65" fill="#010901"/><rect x="318.86" y="348.80" width="12.43" height="2.65" fill="#030000"/><rect x="330.99" y="348.80" width="12.43" height="2.65" fill="#130301"/><rect x="343.12" y="348.80" width="12.43" height="2.65" fill="#0e0201"/><rect x="355.25" y="348.80" width="12.43" height="2.65" fill="#130301"/><rect x="367.38" y="348.80" width="12.43" height="2.65" fill="#120301"/><rect x="379.51" y="348.80" width="12.43" height="2.65" fill="#043b04"/><rect x="391.64" y="348.80" width="12.43" height="2.65" fill="#076b06"/><rect x="403.76" y="348.80" width="12.43" height="2.65" fill="#0ba10a"/><rect x="415.89" y="348.80" width="12.43" height="2.65" fill="#097e08"/><rect x="428.02" y="348.80" width="12.43" height="2.65" fill="#098108"/><rect x="440.15" y="348.80" width="12.43" height="2.65" fill="#065705"/><rect x="452.28" y="348.80" width="12.43" height="2.65" fill="#0b9a09"/><rect x="464.41" y="348.80" width="12.43" height="2.65" fill="#0a9409"/><rect x="476.54" y="348.80" width="12.43" height="2.65" fill="#0a8a08"/><rect x="488.67" y="348.80" width="12.43" height="2.65" fill="#0a8f09"/><rect x="294.60" y="351.30" width="12.43" height="1.15" fill="#1c0402"/><rect x="306.73" y="351.30" width="12.43" height="1.15" fill="#200502"/><rect x="318.86" y="351.30" width="12.43" height="1.15" fill="#320703"/><rect x="330.99" y="351.30" width="12.43" height="1.15" fill="#230502"/><rect x="343.12" y="351.30" width="12.43" height="1.15" fill="#310703"/><rect x="355.25" y="351.30" width="12.43" height="1.15" fill="#3e0904"/><rect x="367.38" y="351.30" width="12.43" height="1.15" fill="#1b0402"/><rect x="379.51" y="351.30" width="12.43" height="1.15" fill="#032c03"/><rect x="391.64" y="351.30" width="12.43" height="1.15" fill="#0a9309"/><rect x="403.76" y="351.30" width="12.43" height="1.15" fill="#098508"/><rect x="415.89" y="351.30" width="12.43" height="1.15" fill="#076b06"/><rect x="428.02" y="351.30" width="12.43" height="1.15" fill="#0b9809"/><rect x="440.15" y="351.30" width="12.43" height="1.15" fill="#0db70b"/><rect x="452.28" y="351.30" width="12.43" height="1.15" fill="#097a07"/><rect x="464.41" y="351.30" width="12.43" height="1.15" fill="#0db30b"/><rect x="476.54" y="351.30" width="12.43" height="1.15" fill="#0a8b08"/><rect x="488.67" y="351.30" width="12.43" height="1.15" fill="#0a8a08"/><rect x="294.60" y="352.30" width="12.43" height="1.65" fill="#1f0402"/><rect x="306.73" y="352.30" width="12.43" height="1.65" fill="#160301"/><rect x="318.86" y="352.30" width="12.43" height="1.65" fill="#260502"/><rect x="330.99" y="352.30" width="12.43" height="1.65" fill="#080101"/><rect x="343.12" y="352.30" width="12.43" height="1.65" fill="#000000"/><rect x="355.25" y="352.30" width="12.43" height="1.65" fill="#040100"/><rect x="367.38" y="352.30" width="12.43" height="1.65" fill="#000300"/><rect x="379.51" y="352.30" width="12.43" height="1.65" fill="#022302"/><rect x="391.64" y="352.30" width="12.43" height="1.65" fill="#0a8a08"/><rect x="403.76" y="352.30" width="12.43" height="1.65" fill="#0ba30a"/><rect x="415.89" y="352.30" width="12.43" height="1.65" fill="#097e08"/><rect x="428.02" y="352.30" width="12.43" height="1.65" fill="#0cb10b"/><rect x="440.15" y="352.30" width="12.43" height="1.65" fill="#0b9b09"/><rect x="452.28" y="352.30" width="12.43" height="1.65" fill="#0dbb0b"/><rect x="464.41" y="352.30" width="12.43" height="1.65" fill="#0b9b09"/><rect x="476.54" y="352.30" width="12.43" height="1.65" fill="#0a8b08"/><rect x="488.67" y="352.30" width="12.43" height="1.65" fill="#0b9809"/><rect x="294.60" y="353.80" width="12.43" height="1.15" fill="#120201"/><rect x="306.73" y="353.80" width="12.43" height="1.15" fill="#000000"/><rect x="318.86" y="353.80" width="12.43" height="1.15" fill="#210502"/><rect x="330.99" y="353.80" width="12.43" height="1.15" fill="#070100"/><rect x="343.12" y="353.80" width="12.43" height="1.15" fill="#1a0402"/><rect x="355.25" y="353.80" width="12.43" height="1.15" fill="#210502"/><rect x="367.38" y="353.80" width="12.43" height="1.15" fill="#060100"/><rect x="379.51" y="353.80" width="12.43" height="1.15" fill="#022202"/><rect x="391.64" y="353.80" width="12.43" height="1.15" fill="#087707"/><rect x="403.76" y="353.80" width="12.43" height="1.15" fill="#0a9509"/><rect x="415.89" y="353.80" width="12.43" height="1.15" fill="#098308"/><rect x="428.02" y="353.80" width="12.43" height="1.15" fill="#065c06"/><rect x="440.15" y="353.80" width="12.43" height="1.15" fill="#0ba40a"/><rect x="452.28" y="353.80" width="12.43" height="1.15" fill="#0db30b"/><rect x="464.41" y="353.80" width="12.43" height="1.15" fill="#0caf0b"/><rect x="476.54" y="353.80" width="24.56" height="1.15" fill="#0a8908"/><rect x="294.60" y="354.80" width="12.43" height="1.65" fill="#080100"/><rect x="306.73" y="354.80" width="12.43" height="1.65" fill="#0b0201"/><rect x="318.86" y="354.80" width="12.43" height="1.65" fill="#290602"/><rect x="330.99" y="354.80" width="12.43" height="1.65" fill="#020000"/><rect x="343.12" y="354.80" width="12.43" height="1.65" fill="#160301"/><rect x="355.25" y="354.80" width="12.43" height="1.65" fill="#0a0101"/><rect x="367.38" y="354.80" width="12.43" height="1.65" fill="#090101"/><rect x="379.51" y="354.80" width="12.43" height="1.65" fill="#022402"/><rect x="391.64" y="354.80" width="12.43" height="1.65" fill="#054404"/><rect x="403.76" y="354.80" width="12.43" height="1.65" fill="#0a8908"/><rect x="415.89" y="354.80" width="12.43" height="1.65" fill="#087307"/><rect x="428.02" y="354.80" width="12.43" height="1.65" fill="#076a06"/><rect x="440.15" y="354.80" width="12.43" height="1.65" fill="#086c06"/><rect x="452.28" y="354.80" width="12.43" height="1.65" fill="#087707"/><rect x="464.41" y="354.80" width="12.43" height="1.65" fill="#098408"/><rect x="476.54" y="354.80" width="12.43" height="1.65" fill="#076a06"/><rect x="488.67" y="354.80" width="12.43" height="1.65" fill="#076206"/><rect x="294.60" y="356.30" width="24.56" height="1.65" fill="#3a0803"/><rect x="318.86" y="356.30" width="24.56" height="1.65" fill="#440904"/><rect x="343.12" y="356.30" width="12.43" height="1.65" fill="#5b0d05"/><rect x="355.25" y="356.30" width="12.43" height="1.65" fill="#390803"/><rect x="367.38" y="356.30" width="12.43" height="1.65" fill="#3d0904"/><rect x="379.51" y="356.30" width="12.43" height="1.65" fill="#022202"/><rect x="391.64" y="356.30" width="12.43" height="1.65" fill="#054904"/><rect x="403.76" y="356.30" width="12.43" height="1.65" fill="#0a8e09"/><rect x="415.89" y="356.30" width="12.43" height="1.65" fill="#054404"/><rect x="428.02" y="356.30" width="12.43" height="1.65" fill="#0ba40a"/><rect x="440.15" y="356.30" width="12.43" height="1.65" fill="#097e08"/><rect x="452.28" y="356.30" width="12.43" height="1.65" fill="#0b9d09"/><rect x="464.41" y="356.30" width="12.43" height="1.65" fill="#0a9409"/><rect x="476.54" y="356.30" width="12.43" height="1.65" fill="#065305"/><rect x="488.67" y="356.30" width="12.43" height="1.65" fill="#087507"/><rect x="294.60" y="357.80" width="12.43" height="1.65" fill="#010800"/><rect x="306.73" y="357.80" width="12.43" height="1.65" fill="#010e01"/><rect x="318.86" y="357.80" width="12.43" height="1.65" fill="#021b02"/><rect x="330.99" y="357.80" width="12.43" height="1.65" fill="#010000"/><rect x="343.12" y="357.80" width="12.43" height="1.65" fill="#0d0201"/><rect x="355.25" y="357.80" width="12.43" height="1.65" fill="#011001"/><rect x="367.38" y="357.80" width="12.43" height="1.65" fill="#010d01"/><rect x="379.51" y="357.80" width="12.43" height="1.65" fill="#032d03"/><rect x="391.64" y="357.80" width="12.43" height="1.65" fill="#097b07"/><rect x="403.76" y="357.80" width="12.43" height="1.65" fill="#065c06"/><rect x="415.89" y="357.80" width="12.43" height="1.65" fill="#087907"/><rect x="428.02" y="357.80" width="12.43" height="1.65" fill="#065105"/><rect x="440.15" y="357.80" width="12.43" height="1.65" fill="#054b04"/><rect x="452.28" y="357.80" width="12.43" height="1.65" fill="#087407"/><rect x="464.41" y="357.80" width="12.43" height="1.65" fill="#098108"/><rect x="476.54" y="357.80" width="12.43" height="1.65" fill="#0a8808"/><rect x="488.67" y="357.80" width="12.43" height="1.65" fill="#065205"/><rect x="294.60" y="359.30" width="12.43" height="2.65" fill="#0e0201"/><rect x="306.73" y="359.30" width="12.43" height="2.65" fill="#0c0201"/><rect x="318.86" y="359.30" width="12.43" height="2.65" fill="#460a04"/><rect x="330.99" y="359.30" width="12.43" height="2.65" fill="#2f0703"/><rect x="343.12" y="359.30" width="12.43" height="2.65" fill="#2d0603"/><rect x="355.25" y="359.30" width="12.43" height="2.65" fill="#210502"/><rect x="367.38" y="359.30" width="12.43" height="2.65" fill="#1b0402"/><rect x="379.51" y="359.30" width="12.43" height="2.65" fill="#022202"/><rect x="391.64" y="359.30" width="12.43" height="2.65" fill="#065005"/><rect x="403.76" y="359.30" width="12.43" height="2.65" fill="#086c06"/><rect x="415.89" y="359.30" width="12.43" height="2.65" fill="#098408"/><rect x="428.02" y="359.30" width="12.43" height="2.65" fill="#054e05"/><rect x="440.15" y="359.30" width="12.43" height="2.65" fill="#054204"/><rect x="452.28" y="359.30" width="12.43" height="2.65" fill="#086d07"/><rect x="464.41" y="359.30" width="12.43" height="2.65" fill="#043c04"/><rect x="476.54" y="359.30" width="12.43" height="2.65" fill="#076506"/><rect x="488.67" y="359.30" width="12.43" height="2.65" fill="#065005"/><rect x="294.60" y="361.80" width="12.43" height="1.65" fill="#320703"/><rect x="306.73" y="361.80" width="12.43" height="1.65" fill="#0f0201"/><rect x="318.86" y="361.80" width="12.43" height="1.65" fill="#200502"/><rect x="330.99" y="361.80" width="12.43" height="1.65" fill="#1b0402"/><rect x="343.12" y="361.80" width="12.43" height="1.65" fill="#280602"/><rect x="355.25" y="361.80" width="12.43" height="1.65" fill="#1c0402"/><rect x="367.38" y="361.80" width="12.43" height="1.65" fill="#0d0201"/><rect x="379.51" y="361.80" width="12.43" height="1.65" fill="#021b02"/><rect x="391.64" y="361.80" width="12.43" height="1.65" fill="#075e06"/><rect x="403.76" y="361.80" width="12.43" height="1.65" fill="#0dbd0b"/><rect x="415.89" y="361.80" width="12.43" height="1.65" fill="#0ec50c"/><rect x="428.02" y="361.80" width="12.43" height="1.65" fill="#0ca50a"/><rect x="440.15" y="361.80" width="12.43" height="1.65" fill="#0b9e09"/><rect x="452.28" y="361.80" width="12.43" height="1.65" fill="#0fd80d"/><rect x="464.41" y="361.80" width="12.43" height="1.65" fill="#097e08"/><rect x="476.54" y="361.80" width="12.43" height="1.65" fill="#086b06"/><rect x="488.67" y="361.80" width="12.43" height="1.65" fill="#0caf0b"/><rect x="294.60" y="363.30" width="12.43" height="1.15" fill="#290602"/><rect x="306.73" y="363.30" width="12.43" height="1.15" fill="#020000"/><rect x="318.86" y="363.30" width="12.43" height="1.15" fill="#0f0201"/><rect x="330.99" y="363.30" width="12.43" height="1.15" fill="#0c0201"/><rect x="343.12" y="363.30" width="12.43" height="1.15" fill="#110201"/><rect x="355.25" y="363.30" width="12.43" height="1.15" fill="#010000"/><rect x="367.38" y="363.30" width="12.43" height="1.15" fill="#0a0101"/><rect x="379.51" y="363.30" width="12.43" height="1.15" fill="#033003"/><rect x="391.64" y="363.30" width="12.43" height="1.15" fill="#076006"/><rect x="403.76" y="363.30" width="12.43" height="1.15" fill="#0db80b"/><rect x="415.89" y="363.30" width="12.43" height="1.15" fill="#0a9309"/><rect x="428.02" y="363.30" width="12.43" height="1.15" fill="#0ba30a"/><rect x="440.15" y="363.30" width="12.43" height="1.15" fill="#0ec20c"/><rect x="452.28" y="363.30" width="12.43" height="1.15" fill="#0db50b"/><rect x="464.41" y="363.30" width="12.43" height="1.15" fill="#0ba40a"/><rect x="476.54" y="363.30" width="12.43" height="1.15" fill="#0a8c08"/><rect x="488.67" y="363.30" width="12.43" height="1.15" fill="#098408"/><rect x="294.60" y="364.30" width="12.43" height="1.15" fill="#032402"/><rect x="306.73" y="364.30" width="24.56" height="1.15" fill="#000600"/><rect x="330.99" y="364.30" width="12.43" height="1.15" fill="#0a0101"/><rect x="343.12" y="364.30" width="12.43" height="1.15" fill="#000100"/><rect x="355.25" y="364.30" width="12.43" height="1.15" fill="#190402"/><rect x="367.38" y="364.30" width="12.43" height="1.15" fill="#000200"/><rect x="379.51" y="364.30" width="12.43" height="1.15" fill="#021a02"/><rect x="391.64" y="364.30" width="12.43" height="1.15" fill="#065205"/><rect x="403.76" y="364.30" width="12.43" height="1.15" fill="#0ca60a"/><rect x="415.89" y="364.30" width="12.43" height="1.15" fill="#0a9409"/><rect x="428.02" y="364.30" width="12.43" height="1.15" fill="#0a9009"/><rect x="440.15" y="364.30" width="12.43" height="1.15" fill="#076406"/><rect x="452.28" y="364.30" width="12.43" height="1.15" fill="#0a9309"/><rect x="464.41" y="364.30" width="12.43" height="1.15" fill="#076b06"/><rect x="476.54" y="364.30" width="12.43" height="1.15" fill="#0ca70a"/><rect x="488.67" y="364.30" width="12.43" height="1.15" fill="#087807"/><rect x="294.60" y="365.30" width="12.43" height="2.65" fill="#220502"/><rect x="306.73" y="365.30" width="12.43" height="2.65" fill="#250502"/><rect x="318.86" y="365.30" width="12.43" height="2.65" fill="#320703"/><rect x="330.99" y="365.30" width="12.43" height="2.65" fill="#290602"/><rect x="343.12" y="365.30" width="12.43" height="2.65" fill="#210502"/><rect x="355.25" y="365.30" width="12.43" height="2.65" fill="#1b0402"/><rect x="367.38" y="365.30" width="12.43" height="2.65" fill="#1f0402"/><rect x="379.51" y="365.30" width="12.43" height="2.65" fill="#021b02"/><rect x="391.64" y="365.30" width="12.43" height="2.65" fill="#076006"/><rect x="403.76" y="365.30" width="12.43" height="2.65" fill="#076b06"/><rect x="415.89" y="365.30" width="12.43" height="2.65" fill="#0caf0a"/><rect x="428.02" y="365.30" width="12.43" height="2.65" fill="#0cac0a"/><rect x="440.15" y="365.30" width="12.43" height="2.65" fill="#098608"/><rect x="452.28" y="365.30" width="12.43" height="2.65" fill="#0ca60a"/><rect x="464.41" y="365.30" width="12.43" height="2.65" fill="#0dbc0b"/><rect x="476.54" y="365.30" width="12.43" height="2.65" fill="#0b9709"/><rect x="488.67" y="365.30" width="12.43" height="2.65" fill="#0a8908"/><rect x="294.60" y="367.80" width="12.43" height="1.15" fill="#500b05"/><rect x="306.73" y="367.80" width="12.43" height="1.15" fill="#260502"/><rect x="318.86" y="367.80" width="12.43" height="1.15" fill="#410904"/><rect x="330.99" y="367.80" width="12.43" height="1.15" fill="#390803"/><rect x="343.12" y="367.80" width="12.43" height="1.15" fill="#2f0703"/><rect x="355.25" y="367.80" width="12.43" height="1.15" fill="#380803"/><rect x="367.38" y="367.80" width="12.43" height="1.15" fill="#410904"/><rect x="379.51" y="367.80" width="12.43" height="1.15" fill="#011101"/><rect x="391.64" y="367.80" width="12.43" height="1.15" fill="#098708"/><rect x="403.76" y="367.80" width="12.43" height="1.15" fill="#0cb00b"/><rect x="415.89" y="367.80" width="12.43" height="1.15" fill="#0a8b08"/><rect x="428.02" y="367.80" width="12.43" height="1.15" fill="#0cb20b"/><rect x="440.15" y="367.80" width="12.43" height="1.15" fill="#0b9c09"/><rect x="452.28" y="367.80" width="12.43" height="1.15" fill="#0cb20b"/><rect x="464.41" y="367.80" width="12.43" height="1.15" fill="#076806"/><rect x="476.54" y="367.80" width="12.43" height="1.15" fill="#0b9809"/><rect x="488.67" y="367.80" width="12.43" height="1.15" fill="#0ca50a"/><rect x="294.60" y="368.80" width="12.43" height="1.15" fill="#000600"/><rect x="306.73" y="368.80" width="12.43" height="1.15" fill="#010f01"/><rect x="318.86" y="368.80" width="12.43" height="1.15" fill="#090101"/><rect x="330.99" y="368.80" width="12.43" height="1.15" fill="#180301"/><rect x="343.12" y="368.80" width="12.43" height="1.15" fill="#060100"/><rect x="355.25" y="368.80" width="12.43" height="1.15" fill="#140301"/><rect x="367.38" y="368.80" width="12.43" height="1.15" fill="#0a0101"/><rect x="379.51" y="368.80" width="12.43" height="1.15" fill="#022102"/><rect x="391.64" y="368.80" width="12.43" height="1.15" fill="#054504"/><rect x="403.76" y="368.80" width="12.43" height="1.15" fill="#0a9509"/><rect x="415.89" y="368.80" width="12.43" height="1.15" fill="#076506"/><rect x="428.02" y="368.80" width="12.43" height="1.15" fill="#0a8e09"/><rect x="440.15" y="368.80" width="12.43" height="1.15" fill="#065105"/><rect x="452.28" y="368.80" width="12.43" height="1.15" fill="#087207"/><rect x="464.41" y="368.80" width="12.43" height="1.15" fill="#087107"/><rect x="476.54" y="368.80" width="12.43" height="1.15" fill="#065c06"/><rect x="488.67" y="368.80" width="12.43" height="1.15" fill="#087107"/><rect x="294.60" y="369.80" width="12.43" height="1.15" fill="#330703"/><rect x="306.73" y="369.80" width="12.43" height="1.15" fill="#240502"/><rect x="318.86" y="369.80" width="12.43" height="1.15" fill="#2e0603"/><rect x="330.99" y="369.80" width="12.43" height="1.15" fill="#1b0402"/><rect x="343.12" y="369.80" width="12.43" height="1.15" fill="#310703"/><rect x="355.25" y="369.80" width="12.43" height="1.15" fill="#300703"/><rect x="367.38" y="369.80" width="12.43" height="1.15" fill="#380803"/><rect x="379.51" y="369.80" width="12.43" height="1.15" fill="#021e02"/><rect x="391.64" y="369.80" width="12.43" height="1.15" fill="#0b9709"/><rect x="403.76" y="369.80" width="12.43" height="1.15" fill="#0ca50a"/><rect x="415.89" y="369.80" width="12.43" height="1.15" fill="#0db40b"/><rect x="428.02" y="369.80" width="12.43" height="1.15" fill="#0cb00b"/><rect x="440.15" y="369.80" width="12.43" height="1.15" fill="#086b06"/><rect x="452.28" y="369.80" width="12.43" height="1.15" fill="#0a9409"/><rect x="464.41" y="369.80" width="12.43" height="1.15" fill="#0a9309"/><rect x="476.54" y="369.80" width="12.43" height="1.15" fill="#0db40b"/><rect x="488.67" y="369.80" width="12.43" height="1.15" fill="#087507"/><rect x="294.60" y="370.80" width="12.43" height="1.65" fill="#3c0804"/><rect x="306.73" y="370.80" width="12.43" height="1.65" fill="#240502"/><rect x="318.86" y="370.80" width="12.43" height="1.65" fill="#3e0904"/><rect x="330.99" y="370.80" width="12.43" height="1.65" fill="#4f0b05"/><rect x="343.12" y="370.80" width="12.43" height="1.65" fill="#460a04"/><rect x="355.25" y="370.80" width="12.43" height="1.65" fill="#3f0904"/><rect x="367.38" y="370.80" width="12.43" height="1.65" fill="#560c05"/><rect x="379.51" y="370.80" width="12.43" height="1.65" fill="#0e0201"/><rect x="391.64" y="370.80" width="12.43" height="1.65" fill="#043c04"/><rect x="403.76" y="370.80" width="12.43" height="1.65" fill="#065b05"/><rect x="415.89" y="370.80" width="12.43" height="1.65" fill="#076b06"/><rect x="428.02" y="370.80" width="12.43" height="1.65" fill="#097b07"/><rect x="440.15" y="370.80" width="12.43" height="1.65" fill="#065105"/><rect x="452.28" y="370.80" width="12.43" height="1.65" fill="#076706"/><rect x="464.41" y="370.80" width="12.43" height="1.65" fill="#065c06"/><rect x="476.54" y="370.80" width="12.43" height="1.65" fill="#054404"/><rect x="488.67" y="370.80" width="12.43" height="1.65" fill="#043c04"/><rect x="294.60" y="372.30" width="12.43" height="1.15" fill="#100201"/><rect x="306.73" y="372.30" width="12.43" height="1.15" fill="#220502"/><rect x="318.86" y="372.30" width="12.43" height="1.15" fill="#000000"/><rect x="330.99" y="372.30" width="12.43" height="1.15" fill="#0d0201"/><rect x="343.12" y="372.30" width="12.43" height="1.15" fill="#370803"/><rect x="355.25" y="372.30" width="12.43" height="1.15" fill="#010a01"/><rect x="367.38" y="372.30" width="12.43" height="1.15" fill="#010d01"/><rect x="379.51" y="372.30" width="12.43" height="1.15" fill="#011101"/><rect x="391.64" y="372.30" width="12.43" height="1.15" fill="#075e06"/><rect x="403.76" y="372.30" width="12.43" height="1.15" fill="#0a9209"/><rect x="415.89" y="372.30" width="12.43" height="1.15" fill="#0b9b09"/><rect x="428.02" y="372.30" width="12.43" height="1.15" fill="#098208"/><rect x="440.15" y="372.30" width="12.43" height="1.15" fill="#098708"/><rect x="452.28" y="372.30" width="12.43" height="1.15" fill="#087607"/><rect x="464.41" y="372.30" width="12.43" height="1.15" fill="#0cb10b"/><rect x="476.54" y="372.30" width="12.43" height="1.15" fill="#076706"/><rect x="488.67" y="372.30" width="12.43" height="1.15" fill="#097f08"/><rect x="294.60" y="373.30" width="24.56" height="1.15" fill="#0c0201"/><rect x="318.86" y="373.30" width="12.43" height="1.15" fill="#1d0402"/><rect x="330.99" y="373.30" width="12.43" height="1.15" fill="#080100"/><rect x="343.12" y="373.30" width="12.43" height="1.15" fill="#200402"/><rect x="355.25" y="373.30" width="12.43" height="1.15" fill="#0e0201"/><rect x="367.38" y="373.30" width="12.43" height="1.15" fill="#110201"/><rect x="379.51" y="373.30" width="12.43" height="1.15" fill="#280602"/><rect x="391.64" y="373.30" width="12.43" height="1.15" fill="#043303"/><rect x="403.76" y="373.30" width="12.43" height="1.15" fill="#0b9809"/><rect x="415.89" y="373.30" width="12.43" height="1.15" fill="#0ca80a"/><rect x="428.02" y="373.30" width="12.43" height="1.15" fill="#097b07"/><rect x="440.15" y="373.30" width="12.43" height="1.15" fill="#076706"/><rect x="452.28" y="373.30" width="12.43" height="1.15" fill="#0a8b08"/><rect x="464.41" y="373.30" width="12.43" height="1.15" fill="#097b07"/><rect x="476.54" y="373.30" width="12.43" height="1.15" fill="#0b9909"/><rect x="488.67" y="373.30" width="12.43" height="1.15" fill="#0b9d09"/><rect x="294.60" y="374.30" width="12.43" height="1.65" fill="#2c0603"/><rect x="306.73" y="374.30" width="12.43" height="1.65" fill="#310703"/><rect x="318.86" y="374.30" width="12.43" height="1.65" fill="#470a04"/><rect x="330.99" y="374.30" width="12.43" height="1.65" fill="#340703"/><rect x="343.12" y="374.30" width="12.43" height="1.65" fill="#4a0a04"/><rect x="355.25" y="374.30" width="12.43" height="1.65" fill="#130301"/><rect x="367.38" y="374.30" width="12.43" height="1.65" fill="#3a0803"/><rect x="379.51" y="374.30" width="12.43" height="1.65" fill="#0e0201"/><rect x="391.64" y="374.30" width="12.43" height="1.65" fill="#043b04"/><rect x="403.76" y="374.30" width="12.43" height="1.65" fill="#086b06"/><rect x="415.89" y="374.30" width="12.43" height="1.65" fill="#0b9b09"/><rect x="428.02" y="374.30" width="12.43" height="1.65" fill="#087207"/><rect x="440.15" y="374.30" width="12.43" height="1.65" fill="#022202"/><rect x="452.28" y="374.30" width="12.43" height="1.65" fill="#087807"/><rect x="464.41" y="374.30" width="12.43" height="1.65" fill="#065105"/><rect x="476.54" y="374.30" width="12.43" height="1.65" fill="#0caa0a"/><rect x="488.67" y="374.30" width="12.43" height="1.65" fill="#033103"/><rect x="294.60" y="375.80" width="12.43" height="1.15" fill="#440904"/><rect x="306.73" y="375.80" width="12.43" height="1.15" fill="#420904"/><rect x="318.86" y="375.80" width="12.43" height="1.15" fill="#4d0b05"/><rect x="330.99" y="375.80" width="12.43" height="1.15" fill="#420904"/><rect x="343.12" y="375.80" width="12.43" height="1.15" fill="#590c05"/><rect x="355.25" y="375.80" width="12.43" height="1.15" fill="#670e06"/><rect x="367.38" y="375.80" width="12.43" height="1.15" fill="#640e06"/><rect x="379.51" y="375.80" width="12.43" height="1.15" fill="#1b0402"/><rect x="391.64" y="375.80" width="12.43" height="1.15" fill="#021e02"/><rect x="403.76" y="375.80" width="12.43" height="1.15" fill="#086c07"/><rect x="415.89" y="375.80" width="12.43" height="1.15" fill="#087007"/><rect x="428.02" y="375.80" width="12.43" height="1.15" fill="#097c07"/><rect x="440.15" y="375.80" width="12.43" height="1.15" fill="#054504"/><rect x="452.28" y="375.80" width="24.56" height="1.15" fill="#043f04"/><rect x="476.54" y="375.80" width="12.43" height="1.15" fill="#021801"/><rect x="488.67" y="375.80" width="12.43" height="1.15" fill="#043d04"/><rect x="294.60" y="376.80" width="12.43" height="1.15" fill="#5b0d05"/><rect x="306.73" y="376.80" width="12.43" height="1.15" fill="#590c05"/><rect x="318.86" y="376.80" width="12.43" height="1.15" fill="#6e0f07"/><rect x="330.99" y="376.80" width="12.43" height="1.15" fill="#670e06"/><rect x="343.12" y="376.80" width="12.43" height="1.15" fill="#7b1107"/><rect x="355.25" y="376.80" width="24.56" height="1.15" fill="#630e06"/><rect x="379.51" y="376.80" width="12.43" height="1.15" fill="#020000"/><rect x="391.64" y="376.80" width="12.43" height="1.15" fill="#043e04"/><rect x="403.76" y="376.80" width="12.43" height="1.15" fill="#0a9009"/><rect x="415.89" y="376.80" width="12.43" height="1.15" fill="#098508"/><rect x="428.02" y="376.80" width="12.43" height="1.15" fill="#086e07"/><rect x="440.15" y="376.80" width="12.43" height="1.15" fill="#098208"/><rect x="452.28" y="376.80" width="12.43" height="1.15" fill="#076806"/><rect x="464.41" y="376.80" width="12.43" height="1.15" fill="#065905"/><rect x="476.54" y="376.80" width="12.43" height="1.15" fill="#054504"/><rect x="488.67" y="376.80" width="12.43" height="1.15" fill="#075f06"/><rect x="294.60" y="377.80" width="12.43" height="1.65" fill="#330703"/><rect x="306.73" y="377.80" width="12.43" height="1.65" fill="#1c0402"/><rect x="318.86" y="377.80" width="12.43" height="1.65" fill="#390803"/><rect x="330.99" y="377.80" width="12.43" height="1.65" fill="#4a0a04"/><rect x="343.12" y="377.80" width="24.56" height="1.65" fill="#460a04"/><rect x="367.38" y="377.80" width="12.43" height="1.65" fill="#3f0904"/><rect x="379.51" y="377.80" width="12.43" height="1.65" fill="#010d01"/><rect x="391.64" y="377.80" width="12.43" height="1.65" fill="#021d02"/><rect x="403.76" y="377.80" width="12.43" height="1.65" fill="#076a06"/><rect x="415.89" y="377.80" width="12.43" height="1.65" fill="#0ca50a"/><rect x="428.02" y="377.80" width="12.43" height="1.65" fill="#0a8908"/><rect x="440.15" y="377.80" width="12.43" height="1.65" fill="#054704"/><rect x="452.28" y="377.80" width="12.43" height="1.65" fill="#044004"/><rect x="464.41" y="377.80" width="12.43" height="1.65" fill="#065905"/><rect x="476.54" y="377.80" width="12.43" height="1.65" fill="#087907"/><rect x="488.67" y="377.80" width="12.43" height="1.65" fill="#054e05"/><rect x="294.60" y="379.30" width="12.43" height="1.15" fill="#580c05"/><rect x="306.73" y="379.30" width="12.43" height="1.15" fill="#470a04"/><rect x="318.86" y="379.30" width="12.43" height="1.15" fill="#771107"/><rect x="330.99" y="379.30" width="12.43" height="1.15" fill="#610e06"/><rect x="343.12" y="379.30" width="12.43" height="1.15" fill="#6e0f07"/><rect x="355.25" y="379.30" width="12.43" height="1.15" fill="#6c0f06"/><rect x="367.38" y="379.30" width="12.43" height="1.15" fill="#630e06"/><rect x="379.51" y="379.30" width="12.43" height="1.15" fill="#160301"/><rect x="391.64" y="379.30" width="12.43" height="1.15" fill="#054a04"/><rect x="403.76" y="379.30" width="12.43" height="1.15" fill="#086f07"/><rect x="415.89" y="379.30" width="12.43" height="1.15" fill="#0a8d08"/><rect x="428.02" y="379.30" width="12.43" height="1.15" fill="#075e06"/><rect x="440.15" y="379.30" width="12.43" height="1.15" fill="#011401"/><rect x="452.28" y="379.30" width="12.43" height="1.15" fill="#054c05"/><rect x="464.41" y="379.30" width="12.43" height="1.15" fill="#033003"/><rect x="476.54" y="379.30" width="12.43" height="1.15" fill="#065905"/><rect x="488.67" y="379.30" width="12.43" height="1.15" fill="#043e04"/><rect x="294.60" y="380.30" width="12.43" height="2.15" fill="#150301"/><rect x="306.73" y="380.30" width="12.43" height="2.15" fill="#460a04"/><rect x="318.86" y="380.30" width="24.56" height="2.15" fill="#300703"/><rect x="343.12" y="380.30" width="12.43" height="2.15" fill="#350703"/><rect x="355.25" y="380.30" width="12.43" height="2.15" fill="#240502"/><rect x="367.38" y="380.30" width="12.43" height="2.15" fill="#520c05"/><rect x="379.51" y="380.30" width="12.43" height="2.15" fill="#0b0201"/><rect x="391.64" y="380.30" width="12.43" height="2.15" fill="#033003"/><rect x="403.76" y="380.30" width="12.43" height="2.15" fill="#098108"/><rect x="415.89" y="380.30" width="12.43" height="2.15" fill="#097e08"/><rect x="428.02" y="380.30" width="12.43" height="2.15" fill="#098308"/><rect x="440.15" y="380.30" width="12.43" height="2.15" fill="#043803"/><rect x="452.28" y="380.30" width="12.43" height="2.15" fill="#0b9909"/><rect x="464.41" y="380.30" width="12.43" height="2.15" fill="#097c07"/><rect x="476.54" y="380.30" width="12.43" height="2.15" fill="#0db30b"/><rect x="488.67" y="380.30" width="12.43" height="2.15" fill="#065705"/><rect x="294.60" y="382.30" width="12.43" height="1.15" fill="#440a04"/><rect x="306.73" y="382.30" width="12.43" height="1.15" fill="#310703"/><rect x="318.86" y="382.30" width="12.43" height="1.15" fill="#450a04"/><rect x="330.99" y="382.30" width="12.43" height="1.15" fill="#6e0f07"/><rect x="343.12" y="382.30" width="12.43" height="1.15" fill="#490a04"/><rect x="355.25" y="382.30" width="12.43" height="1.15" fill="#530c05"/><rect x="367.38" y="382.30" width="12.43" height="1.15" fill="#2e0603"/><rect x="379.51" y="382.30" width="12.43" height="1.15" fill="#150301"/><rect x="391.64" y="382.30" width="12.43" height="1.15" fill="#032a03"/><rect x="403.76" y="382.30" width="12.43" height="1.15" fill="#0cac0a"/><rect x="415.89" y="382.30" width="12.43" height="1.15" fill="#065605"/><rect x="428.02" y="382.30" width="12.43" height="1.15" fill="#065305"/><rect x="440.15" y="382.30" width="12.43" height="1.15" fill="#022002"/><rect x="452.28" y="382.30" width="12.43" height="1.15" fill="#021801"/><rect x="464.41" y="382.30" width="12.43" height="1.15" fill="#022302"/><rect x="476.54" y="382.30" width="12.43" height="1.15" fill="#076006"/><rect x="488.67" y="382.30" width="12.43" height="1.15" fill="#043403"/><rect x="294.60" y="383.30" width="12.43" height="2.15" fill="#7b1107"/><rect x="306.73" y="383.30" width="12.43" height="2.15" fill="#5b0d05"/><rect x="318.86" y="383.30" width="12.43" height="2.15" fill="#8c1408"/><rect x="330.99" y="383.30" width="12.43" height="2.15" fill="#8a1308"/><rect x="343.12" y="383.30" width="12.43" height="2.15" fill="#6e0f07"/><rect x="355.25" y="383.30" width="12.43" height="2.15" fill="#811208"/><rect x="367.38" y="383.30" width="12.43" height="2.15" fill="#721007"/><rect x="379.51" y="383.30" width="12.43" height="2.15" fill="#060100"/><rect x="391.64" y="383.30" width="12.43" height="2.15" fill="#032602"/><rect x="403.76" y="383.30" width="12.43" height="2.15" fill="#087807"/><rect x="415.89" y="383.30" width="12.43" height="2.15" fill="#097a07"/><rect x="428.02" y="383.30" width="12.43" height="2.15" fill="#0cad0a"/><rect x="440.15" y="383.30" width="12.43" height="2.15" fill="#065205"/><rect x="452.28" y="383.30" width="12.43" height="2.15" fill="#087907"/><rect x="464.41" y="383.30" width="12.43" height="2.15" fill="#076b06"/><rect x="476.54" y="383.30" width="12.43" height="2.15" fill="#076306"/><rect x="488.67" y="383.30" width="12.43" height="2.15" fill="#065205"/><rect x="294.60" y="385.30" width="12.43" height="1.15" fill="#5a0d05"/><rect x="306.73" y="385.30" width="12.43" height="1.15" fill="#500b05"/><rect x="318.86" y="385.30" width="12.43" height="1.15" fill="#3f0904"/><rect x="330.99" y="385.30" width="12.43" height="1.15" fill="#6a0f06"/><rect x="343.12" y="385.30" width="12.43" height="1.15" fill="#4c0b05"/><rect x="355.25" y="385.30" width="12.43" height="1.15" fill="#500b05"/><rect x="367.38" y="385.30" width="12.43" height="1.15" fill="#280602"/><rect x="379.51" y="385.30" width="12.43" height="1.15" fill="#260502"/><rect x="391.64" y="385.30" width="12.43" height="1.15" fill="#032c03"/><rect x="403.76" y="385.30" width="12.43" height="1.15" fill="#076406"/><rect x="415.89" y="385.30" width="12.43" height="1.15" fill="#086d07"/><rect x="428.02" y="385.30" width="12.43" height="1.15" fill="#087407"/><rect x="440.15" y="385.30" width="12.43" height="1.15" fill="#087007"/><rect x="452.28" y="385.30" width="12.43" height="1.15" fill="#065a05"/><rect x="464.41" y="385.30" width="12.43" height="1.15" fill="#065b05"/><rect x="476.54" y="385.30" width="12.43" height="1.15" fill="#032902"/><rect x="488.67" y="385.30" width="12.43" height="1.15" fill="#054e05"/><rect x="294.60" y="386.30" width="12.43" height="1.65" fill="#6c0f06"/><rect x="306.73" y="386.30" width="12.43" height="1.65" fill="#610e06"/><rect x="318.86" y="386.30" width="12.43" height="1.65" fill="#851308"/><rect x="330.99" y="386.30" width="12.43" height="1.65" fill="#721007"/><rect x="343.12" y="386.30" width="12.43" height="1.65" fill="#630e06"/><rect x="355.25" y="386.30" width="12.43" height="1.65" fill="#6e0f07"/><rect x="367.38" y="386.30" width="12.43" height="1.65" fill="#530c05"/><rect x="379.51" y="386.30" width="12.43" height="1.65" fill="#0a0101"/><rect x="391.64" y="386.30" width="12.43" height="1.65" fill="#021c02"/><rect x="403.76" y="386.30" width="12.43" height="1.65" fill="#076606"/><rect x="415.89" y="386.30" width="12.43" height="1.65" fill="#032902"/><rect x="428.02" y="386.30" width="12.43" height="1.65" fill="#076706"/><rect x="440.15" y="386.30" width="12.43" height="1.65" fill="#011301"/><rect x="452.28" y="386.30" width="12.43" height="1.65" fill="#043403"/><rect x="464.41" y="386.30" width="12.43" height="1.65" fill="#054a04"/><rect x="476.54" y="386.30" width="12.43" height="1.65" fill="#054604"/><rect x="488.67" y="386.30" width="12.43" height="1.65" fill="#010700"/><rect x="294.60" y="387.80" width="12.43" height="1.15" fill="#871308"/><rect x="306.73" y="387.80" width="12.43" height="1.15" fill="#5b0d05"/><rect x="318.86" y="387.80" width="12.43" height="1.15" fill="#831208"/><rect x="330.99" y="387.80" width="12.43" height="1.15" fill="#7b1107"/><rect x="343.12" y="387.80" width="12.43" height="1.15" fill="#771107"/><rect x="355.25" y="387.80" width="12.43" height="1.15" fill="#7d1107"/><rect x="367.38" y="387.80" width="12.43" height="1.15" fill="#690f06"/><rect x="379.51" y="387.80" width="12.43" height="1.15" fill="#180301"/><rect x="391.64" y="387.80" width="12.43" height="1.15" fill="#032e03"/><rect x="403.76" y="387.80" width="12.43" height="1.15" fill="#097f08"/><rect x="415.89" y="387.80" width="12.43" height="1.15" fill="#098508"/><rect x="428.02" y="387.80" width="12.43" height="1.15" fill="#043403"/><rect x="440.15" y="387.80" width="12.43" height="1.15" fill="#087207"/><rect x="452.28" y="387.80" width="12.43" height="1.15" fill="#076706"/><rect x="464.41" y="387.80" width="12.43" height="1.15" fill="#043303"/><rect x="476.54" y="387.80" width="12.43" height="1.15" fill="#076606"/><rect x="488.67" y="387.80" width="12.43" height="1.15" fill="#076006"/><rect x="294.60" y="388.80" width="12.43" height="1.65" fill="#3c0804"/><rect x="306.73" y="388.80" width="12.43" height="1.65" fill="#3a0803"/><rect x="318.86" y="388.80" width="12.43" height="1.65" fill="#3c0804"/><rect x="330.99" y="388.80" width="12.43" height="1.65" fill="#270502"/><rect x="343.12" y="388.80" width="12.43" height="1.65" fill="#620e06"/><rect x="355.25" y="388.80" width="12.43" height="1.65" fill="#350703"/><rect x="367.38" y="388.80" width="12.43" height="1.65" fill="#220502"/><rect x="379.51" y="388.80" width="12.43" height="1.65" fill="#010700"/><rect x="391.64" y="388.80" width="12.43" height="1.65" fill="#010c01"/><rect x="403.76" y="388.80" width="12.43" height="1.65" fill="#043703"/><rect x="415.89" y="388.80" width="12.43" height="1.65" fill="#0a8f09"/><rect x="428.02" y="388.80" width="12.43" height="1.65" fill="#097d08"/><rect x="440.15" y="388.80" width="12.43" height="1.65" fill="#065905"/><rect x="452.28" y="388.80" width="12.43" height="1.65" fill="#076b06"/><rect x="464.41" y="388.80" width="12.43" height="1.65" fill="#087807"/><rect x="476.54" y="388.80" width="12.43" height="1.65" fill="#0ba10a"/><rect x="488.67" y="388.80" width="12.43" height="1.65" fill="#054504"/><rect x="294.60" y="390.30" width="12.43" height="1.15" fill="#7e1208"/><rect x="306.73" y="390.30" width="12.43" height="1.15" fill="#630e06"/><rect x="318.86" y="390.30" width="12.43" height="1.15" fill="#871308"/><rect x="330.99" y="390.30" width="12.43" height="1.15" fill="#6a0f06"/><rect x="343.12" y="390.30" width="12.43" height="1.15" fill="#610e06"/><rect x="355.25" y="390.30" width="12.43" height="1.15" fill="#470a04"/><rect x="367.38" y="390.30" width="12.43" height="1.15" fill="#861308"/><rect x="379.51" y="390.30" width="12.43" height="1.15" fill="#2b0603"/><rect x="391.64" y="390.30" width="12.43" height="1.15" fill="#033103"/><rect x="403.76" y="390.30" width="12.43" height="1.15" fill="#0a9609"/><rect x="415.89" y="390.30" width="12.43" height="1.15" fill="#086f07"/><rect x="428.02" y="390.30" width="12.43" height="1.15" fill="#065905"/><rect x="440.15" y="390.30" width="12.43" height="1.15" fill="#087307"/><rect x="452.28" y="390.30" width="12.43" height="1.15" fill="#076b06"/><rect x="464.41" y="390.30" width="12.43" height="1.15" fill="#032b03"/><rect x="476.54" y="390.30" width="12.43" height="1.15" fill="#065905"/><rect x="488.67" y="390.30" width="12.43" height="1.15" fill="#033003"/><rect x="294.60" y="391.30" width="12.43" height="1.65" fill="#3b0804"/><rect x="306.73" y="391.30" width="12.43" height="1.65" fill="#430904"/><rect x="318.86" y="391.30" width="12.43" height="1.65" fill="#620e06"/><rect x="330.99" y="391.30" width="12.43" height="1.65" fill="#3f0904"/><rect x="343.12" y="391.30" width="12.43" height="1.65" fill="#430904"/><rect x="355.25" y="391.30" width="12.43" height="1.65" fill="#420904"/><rect x="367.38" y="391.30" width="12.43" height="1.65" fill="#4a0a04"/><rect x="379.51" y="391.30" width="12.43" height="1.65" fill="#0d0201"/><rect x="391.64" y="391.30" width="12.43" height="1.65" fill="#032b03"/><rect x="403.76" y="391.30" width="12.43" height="1.65" fill="#076806"/><rect x="415.89" y="391.30" width="12.43" height="1.65" fill="#054604"/><rect x="428.02" y="391.30" width="12.43" height="1.65" fill="#097f08"/><rect x="440.15" y="391.30" width="12.43" height="1.65" fill="#065805"/><rect x="452.28" y="391.30" width="12.43" height="1.65" fill="#075e06"/><rect x="464.41" y="391.30" width="12.43" height="1.65" fill="#087307"/><rect x="476.54" y="391.30" width="12.43" height="1.65" fill="#054b05"/><rect x="488.67" y="391.30" width="12.43" height="1.65" fill="#054904"/><rect x="294.60" y="392.80" width="12.43" height="1.65" fill="#0f0201"/><rect x="306.73" y="392.80" width="12.43" height="1.65" fill="#500b05"/><rect x="318.86" y="392.80" width="12.43" height="1.65" fill="#380803"/><rect x="330.99" y="392.80" width="12.43" height="1.65" fill="#300703"/><rect x="343.12" y="392.80" width="12.43" height="1.65" fill="#470a04"/><rect x="355.25" y="392.80" width="12.43" height="1.65" fill="#3c0804"/><rect x="367.38" y="392.80" width="12.43" height="1.65" fill="#320703"/><rect x="379.51" y="392.80" width="12.43" height="1.65" fill="#090101"/><rect x="391.64" y="392.80" width="12.43" height="1.65" fill="#010f01"/><rect x="403.76" y="392.80" width="12.43" height="1.65" fill="#087807"/><rect x="415.89" y="392.80" width="12.43" height="1.65" fill="#0a9209"/><rect x="428.02" y="392.80" width="12.43" height="1.65" fill="#0a8808"/><rect x="440.15" y="392.80" width="12.43" height="1.65" fill="#032d03"/><rect x="452.28" y="392.80" width="12.43" height="1.65" fill="#098108"/><rect x="464.41" y="392.80" width="12.43" height="1.65" fill="#054404"/><rect x="476.54" y="392.80" width="24.56" height="1.65" fill="#054904"/><rect x="294.60" y="394.30" width="12.43" height="1.15" fill="#6f1007"/><rect x="306.73" y="394.30" width="12.43" height="1.15" fill="#731007"/><rect x="318.86" y="394.30" width="12.43" height="1.15" fill="#6d0f07"/><rect x="330.99" y="394.30" width="12.43" height="1.15" fill="#7e1208"/><rect x="343.12" y="394.30" width="12.43" height="1.15" fill="#7f1208"/><rect x="355.25" y="394.30" width="12.43" height="1.15" fill="#711007"/><rect x="367.38" y="394.30" width="12.43" height="1.15" fill="#8b1308"/><rect x="379.51" y="394.30" width="12.43" height="1.15" fill="#250502"/><rect x="391.64" y="394.30" width="12.43" height="1.15" fill="#022102"/><rect x="403.76" y="394.30" width="12.43" height="1.15" fill="#054404"/><rect x="415.89" y="394.30" width="12.43" height="1.15" fill="#032902"/><rect x="428.02" y="394.30" width="12.43" height="1.15" fill="#054a04"/><rect x="440.15" y="394.30" width="12.43" height="1.15" fill="#054404"/><rect x="452.28" y="394.30" width="12.43" height="1.15" fill="#054d05"/><rect x="464.41" y="394.30" width="12.43" height="1.15" fill="#010901"/><rect x="476.54" y="394.30" width="12.43" height="1.15" fill="#021901"/><rect x="488.67" y="394.30" width="12.43" height="1.15" fill="#1a0402"/><rect x="294.60" y="395.30" width="12.43" height="1.15" fill="#761107"/><rect x="306.73" y="395.30" width="12.43" height="1.15" fill="#510b05"/><rect x="318.86" y="395.30" width="12.43" height="1.15" fill="#5e0d06"/><rect x="330.99" y="395.30" width="12.43" height="1.15" fill="#630e06"/><rect x="343.12" y="395.30" width="12.43" height="1.15" fill="#6c0f07"/><rect x="355.25" y="395.30" width="12.43" height="1.15" fill="#881308"/><rect x="367.38" y="395.30" width="12.43" height="1.15" fill="#6c0f06"/><rect x="379.51" y="395.30" width="12.43" height="1.15" fill="#1c0402"/><rect x="391.64" y="395.30" width="12.43" height="1.15" fill="#060100"/><rect x="403.76" y="395.30" width="12.43" height="1.15" fill="#075f06"/><rect x="415.89" y="395.30" width="12.43" height="1.15" fill="#043e04"/><rect x="428.02" y="395.30" width="12.43" height="1.15" fill="#043d04"/><rect x="440.15" y="395.30" width="12.43" height="1.15" fill="#010901"/><rect x="452.28" y="395.30" width="12.43" height="1.15" fill="#000100"/><rect x="464.41" y="395.30" width="12.43" height="1.15" fill="#054604"/><rect x="476.54" y="395.30" width="12.43" height="1.15" fill="#065905"/><rect x="488.67" y="395.30" width="12.43" height="1.15" fill="#032a03"/><rect x="294.60" y="396.30" width="12.43" height="2.15" fill="#7b1107"/><rect x="306.73" y="396.30" width="12.43" height="2.15" fill="#711007"/><rect x="318.86" y="396.30" width="12.43" height="2.15" fill="#6a0f06"/><rect x="330.99" y="396.30" width="12.43" height="2.15" fill="#801208"/><rect x="343.12" y="396.30" width="12.43" height="2.15" fill="#a6170a"/><rect x="355.25" y="396.30" width="12.43" height="2.15" fill="#711007"/><rect x="367.38" y="396.30" width="12.43" height="2.15" fill="#5d0d06"/><rect x="379.51" y="396.30" width="12.43" height="2.15" fill="#0c0201"/><rect x="391.64" y="396.30" width="12.43" height="2.15" fill="#070100"/><rect x="403.76" y="396.30" width="12.43" height="2.15" fill="#087707"/><rect x="415.89" y="396.30" width="12.43" height="2.15" fill="#0a8d08"/><rect x="428.02" y="396.30" width="12.43" height="2.15" fill="#0b9d09"/><rect x="440.15" y="396.30" width="12.43" height="2.15" fill="#054704"/><rect x="452.28" y="396.30" width="12.43" height="2.15" fill="#054404"/><rect x="464.41" y="396.30" width="12.43" height="2.15" fill="#076506"/><rect x="476.54" y="396.30" width="12.43" height="2.15" fill="#065105"/><rect x="488.67" y="396.30" width="12.43" height="2.15" fill="#032502"/><rect x="294.60" y="398.30" width="12.43" height="1.15" fill="#5d0d06"/><rect x="306.73" y="398.30" width="12.43" height="1.15" fill="#590c05"/><rect x="318.86" y="398.30" width="12.43" height="1.15" fill="#851308"/><rect x="330.99" y="398.30" width="12.43" height="1.15" fill="#7d1208"/><rect x="343.12" y="398.30" width="12.43" height="1.15" fill="#891308"/><rect x="355.25" y="398.30" width="12.43" height="1.15" fill="#701007"/><rect x="367.38" y="398.30" width="12.43" height="1.15" fill="#650e06"/><rect x="379.51" y="398.30" width="24.56" height="1.15" fill="#150301"/><rect x="403.76" y="398.30" width="12.43" height="1.15" fill="#0a9109"/><rect x="415.89" y="398.30" width="12.43" height="1.15" fill="#087107"/><rect x="428.02" y="398.30" width="12.43" height="1.15" fill="#0a8d08"/><rect x="440.15" y="398.30" width="12.43" height="1.15" fill="#065805"/><rect x="452.28" y="398.30" width="12.43" height="1.15" fill="#0a8f09"/><rect x="464.41" y="398.30" width="12.43" height="1.15" fill="#098008"/><rect x="476.54" y="398.30" width="12.43" height="1.15" fill="#065505"/><rect x="488.67" y="398.30" width="12.43" height="1.15" fill="#065a05"/><rect x="294.60" y="399.30" width="12.43" height="2.15" fill="#340703"/><rect x="306.73" y="399.30" width="12.43" height="2.15" fill="#2b0603"/><rect x="318.86" y="399.30" width="12.43" height="2.15" fill="#390803"/><rect x="330.99" y="399.30" width="12.43" height="2.15" fill="#340703"/><rect x="343.12" y="399.30" width="12.43" height="2.15" fill="#470a04"/><rect x="355.25" y="399.30" width="12.43" height="2.15" fill="#480a04"/><rect x="367.38" y="399.30" width="12.43" height="2.15" fill="#420904"/><rect x="379.51" y="399.30" width="12.43" height="2.15" fill="#140301"/><rect x="391.64" y="399.30" width="12.43" height="2.15" fill="#020000"/><rect x="403.76" y="399.30" width="12.43" height="2.15" fill="#043903"/><rect x="415.89" y="399.30" width="12.43" height="2.15" fill="#032802"/><rect x="428.02" y="399.30" width="12.43" height="2.15" fill="#065a05"/><rect x="440.15" y="399.30" width="12.43" height="2.15" fill="#010d01"/><rect x="452.28" y="399.30" width="12.43" height="2.15" fill="#076706"/><rect x="464.41" y="399.30" width="12.43" height="2.15" fill="#043603"/><rect x="476.54" y="399.30" width="12.43" height="2.15" fill="#021c02"/><rect x="488.67" y="399.30" width="12.43" height="2.15" fill="#000100"/><rect x="294.60" y="401.30" width="12.43" height="2.15" fill="#861308"/><rect x="306.73" y="401.30" width="12.43" height="2.15" fill="#6d0f07"/><rect x="318.86" y="401.30" width="12.43" height="2.15" fill="#841208"/><rect x="330.99" y="401.30" width="12.43" height="2.15" fill="#721007"/><rect x="343.12" y="401.30" width="12.43" height="2.15" fill="#881308"/><rect x="355.25" y="401.30" width="12.43" height="2.15" fill="#821208"/><rect x="367.38" y="401.30" width="12.43" height="2.15" fill="#7c1107"/><rect x="379.51" y="401.30" width="12.43" height="2.15" fill="#240502"/><rect x="391.64" y="401.30" width="12.43" height="2.15" fill="#010800"/><rect x="403.76" y="401.30" width="12.43" height="2.15" fill="#0b9b09"/><rect x="415.89" y="401.30" width="12.43" height="2.15" fill="#076906"/><rect x="428.02" y="401.30" width="12.43" height="2.15" fill="#0a8808"/><rect x="440.15" y="401.30" width="12.43" height="2.15" fill="#043f04"/><rect x="452.28" y="401.30" width="12.43" height="2.15" fill="#054e05"/><rect x="464.41" y="401.30" width="12.43" height="2.15" fill="#054104"/><rect x="476.54" y="401.30" width="12.43" height="2.15" fill="#0b9809"/><rect x="488.67" y="401.30" width="12.43" height="2.15" fill="#075f06"/><rect x="294.60" y="403.30" width="12.43" height="2.65" fill="#821208"/><rect x="306.73" y="403.30" width="12.43" height="2.65" fill="#560c05"/><rect x="318.86" y="403.30" width="12.43" height="2.65" fill="#570c05"/><rect x="330.99" y="403.30" width="12.43" height="2.65" fill="#731007"/><rect x="343.12" y="403.30" width="12.43" height="2.65" fill="#781107"/><rect x="355.25" y="403.30" width="12.43" height="2.65" fill="#450a04"/><rect x="367.38" y="403.30" width="12.43" height="2.65" fill="#630e06"/><rect x="379.51" y="403.30" width="12.43" height="2.65" fill="#200502"/><rect x="391.64" y="403.30" width="12.43" height="2.65" fill="#0c0201"/><rect x="403.76" y="403.30" width="12.43" height="2.65" fill="#0a8c08"/><rect x="415.89" y="403.30" width="12.43" height="2.65" fill="#0a8a08"/><rect x="428.02" y="403.30" width="12.43" height="2.65" fill="#098408"/><rect x="440.15" y="403.30" width="12.43" height="2.65" fill="#098308"/><rect x="452.28" y="403.30" width="12.43" height="2.65" fill="#075e06"/><rect x="464.41" y="403.30" width="12.43" height="2.65" fill="#087107"/><rect x="476.54" y="403.30" width="12.43" height="2.65" fill="#0a8c08"/><rect x="488.67" y="403.30" width="12.43" height="2.65" fill="#043903"/><rect x="294.60" y="405.80" width="12.43" height="1.15" fill="#821208"/><rect x="306.73" y="405.80" width="12.43" height="1.15" fill="#851308"/><rect x="318.86" y="405.80" width="12.43" height="1.15" fill="#781107"/><rect x="330.99" y="405.80" width="12.43" height="1.15" fill="#971509"/><rect x="343.12" y="405.80" width="12.43" height="1.15" fill="#991509"/><rect x="355.25" y="405.80" width="12.43" height="1.15" fill="#951509"/><rect x="367.38" y="405.80" width="12.43" height="1.15" fill="#8c1408"/><rect x="379.51" y="405.80" width="12.43" height="1.15" fill="#1b0402"/><rect x="391.64" y="405.80" width="12.43" height="1.15" fill="#032a03"/><rect x="403.76" y="405.80" width="12.43" height="1.15" fill="#065b05"/><rect x="415.89" y="405.80" width="12.43" height="1.15" fill="#043d04"/><rect x="428.02" y="405.80" width="12.43" height="1.15" fill="#043603"/><rect x="440.15" y="405.80" width="12.43" height="1.15" fill="#032c03"/><rect x="452.28" y="405.80" width="12.43" height="1.15" fill="#043d04"/><rect x="464.41" y="405.80" width="12.43" height="1.15" fill="#043503"/><rect x="476.54" y="405.80" width="12.43" height="1.15" fill="#010c01"/><rect x="488.67" y="405.80" width="12.43" height="1.15" fill="#060100"/><rect x="294.60" y="406.80" width="12.43" height="1.15" fill="#851308"/><rect x="306.73" y="406.80" width="12.43" height="1.15" fill="#660e06"/><rect x="318.86" y="406.80" width="12.43" height="1.15" fill="#640e06"/><rect x="330.99" y="406.80" width="12.43" height="1.15" fill="#7a1107"/><rect x="343.12" y="406.80" width="12.43" height="1.15" fill="#881308"/><rect x="355.25" y="406.80" width="12.43" height="1.15" fill="#831208"/><rect x="367.38" y="406.80" width="12.43" height="1.15" fill="#560c05"/><rect x="379.51" y="406.80" width="12.43" height="1.15" fill="#280602"/><rect x="391.64" y="406.80" width="12.43" height="1.15" fill="#000000"/><rect x="403.76" y="406.80" width="12.43" height="1.15" fill="#043803"/><rect x="415.89" y="406.80" width="12.43" height="1.15" fill="#065b05"/><rect x="428.02" y="406.80" width="12.43" height="1.15" fill="#097c07"/><rect x="440.15" y="406.80" width="12.43" height="1.15" fill="#032802"/><rect x="452.28" y="406.80" width="12.43" height="1.15" fill="#054604"/><rect x="464.41" y="406.80" width="12.43" height="1.15" fill="#064f05"/><rect x="476.54" y="406.80" width="12.43" height="1.15" fill="#043503"/><rect x="488.67" y="406.80" width="12.43" height="1.15" fill="#022402"/><rect x="294.60" y="407.80" width="12.43" height="1.15" fill="#9f160a"/><rect x="306.73" y="407.80" width="12.43" height="1.15" fill="#560c05"/><rect x="318.86" y="407.80" width="12.43" height="1.15" fill="#9b1609"/><rect x="330.99" y="407.80" width="24.56" height="1.15" fill="#891308"/><rect x="355.25" y="407.80" width="12.43" height="1.15" fill="#8a1308"/><rect x="367.38" y="407.80" width="12.43" height="1.15" fill="#821208"/><rect x="379.51" y="407.80" width="12.43" height="1.15" fill="#310703"/><rect x="391.64" y="407.80" width="12.43" height="1.15" fill="#1c0402"/><rect x="403.76" y="407.80" width="12.43" height="1.15" fill="#065205"/><rect x="415.89" y="407.80" width="12.43" height="1.15" fill="#011101"/><rect x="428.02" y="407.80" width="12.43" height="1.15" fill="#043b04"/><rect x="440.15" y="407.80" width="12.43" height="1.15" fill="#360803"/><rect x="452.28" y="407.80" width="12.43" height="1.15" fill="#000400"/><rect x="464.41" y="407.80" width="12.43" height="1.15" fill="#011001"/><rect x="476.54" y="407.80" width="12.43" height="1.15" fill="#032502"/><rect x="488.67" y="407.80" width="12.43" height="1.15" fill="#260502"/><rect x="294.60" y="408.80" width="12.43" height="1.65" fill="#430904"/><rect x="306.73" y="408.80" width="12.43" height="1.65" fill="#6e0f07"/><rect x="318.86" y="408.80" width="12.43" height="1.65" fill="#570c05"/><rect x="330.99" y="408.80" width="12.43" height="1.65" fill="#660e06"/><rect x="343.12" y="408.80" width="12.43" height="1.65" fill="#530c05"/><rect x="355.25" y="408.80" width="12.43" height="1.65" fill="#490a04"/><rect x="367.38" y="408.80" width="12.43" height="1.65" fill="#5d0d06"/><rect x="379.51" y="408.80" width="24.56" height="1.65" fill="#1a0402"/><rect x="403.76" y="408.80" width="12.43" height="1.65" fill="#054104"/><rect x="415.89" y="408.80" width="12.43" height="1.65" fill="#076006"/><rect x="428.02" y="408.80" width="12.43" height="1.65" fill="#032902"/><rect x="440.15" y="408.80" width="12.43" height="1.65" fill="#010b01"/><rect x="452.28" y="408.80" width="12.43" height="1.65" fill="#043303"/><rect x="464.41" y="408.80" width="12.43" height="1.65" fill="#032802"/><rect x="476.54" y="408.80" width="12.43" height="1.65" fill="#032502"/><rect x="488.67" y="408.80" width="12.43" height="1.65" fill="#190301"/><rect x="294.60" y="410.30" width="12.43" height="2.65" fill="#871308"/><rect x="306.73" y="410.30" width="12.43" height="2.65" fill="#821208"/><rect x="318.86" y="410.30" width="12.43" height="2.65" fill="#831208"/><rect x="330.99" y="410.30" width="12.43" height="2.65" fill="#9e1609"/><rect x="343.12" y="410.30" width="12.43" height="2.65" fill="#901409"/><rect x="355.25" y="410.30" width="12.43" height="2.65" fill="#911409"/><rect x="367.38" y="410.30" width="12.43" height="2.65" fill="#971509"/><rect x="379.51" y="410.30" width="12.43" height="2.65" fill="#1e0402"/><rect x="391.64" y="410.30" width="12.43" height="2.65" fill="#110201"/><rect x="403.76" y="410.30" width="12.43" height="2.65" fill="#065405"/><rect x="415.89" y="410.30" width="12.43" height="2.65" fill="#043803"/><rect x="428.02" y="410.30" width="12.43" height="2.65" fill="#032502"/><rect x="440.15" y="410.30" width="12.43" height="2.65" fill="#032602"/><rect x="452.28" y="410.30" width="12.43" height="2.65" fill="#032902"/><rect x="464.41" y="410.30" width="12.43" height="2.65" fill="#065305"/><rect x="476.54" y="410.30" width="12.43" height="2.65" fill="#043703"/><rect x="488.67" y="410.30" width="12.43" height="2.65" fill="#011201"/><rect x="294.60" y="412.80" width="12.43" height="1.15" fill="#901409"/><rect x="306.73" y="412.80" width="12.43" height="1.15" fill="#5c0d06"/><rect x="318.86" y="412.80" width="12.43" height="1.15" fill="#6b0f06"/><rect x="330.99" y="412.80" width="12.43" height="1.15" fill="#600d06"/><rect x="343.12" y="412.80" width="12.43" height="1.15" fill="#851308"/><rect x="355.25" y="412.80" width="12.43" height="1.15" fill="#791107"/><rect x="367.38" y="412.80" width="12.43" height="1.15" fill="#6d0f07"/><rect x="379.51" y="412.80" width="12.43" height="1.15" fill="#270502"/><rect x="391.64" y="412.80" width="12.43" height="1.15" fill="#3a0803"/><rect x="403.76" y="412.80" width="12.43" height="1.15" fill="#076706"/><rect x="415.89" y="412.80" width="12.43" height="1.15" fill="#086c06"/><rect x="428.02" y="412.80" width="12.43" height="1.15" fill="#098608"/><rect x="440.15" y="412.80" width="12.43" height="1.15" fill="#043d04"/><rect x="452.28" y="412.80" width="12.43" height="1.15" fill="#021701"/><rect x="464.41" y="412.80" width="12.43" height="1.15" fill="#032c03"/><rect x="476.54" y="412.80" width="12.43" height="1.15" fill="#032802"/><rect x="488.67" y="412.80" width="12.43" height="1.15" fill="#043903"/><rect x="294.60" y="413.80" width="12.43" height="1.15" fill="#7b1107"/><rect x="306.73" y="413.80" width="12.43" height="1.15" fill="#801208"/><rect x="318.86" y="413.80" width="12.43" height="1.15" fill="#5d0d06"/><rect x="330.99" y="413.80" width="12.43" height="1.15" fill="#6b0f06"/><rect x="343.12" y="413.80" width="12.43" height="1.15" fill="#a8180a"/><rect x="355.25" y="413.80" width="12.43" height="1.15" fill="#941509"/><rect x="367.38" y="413.80" width="12.43" height="1.15" fill="#711007"/><rect x="379.51" y="413.80" width="12.43" height="1.15" fill="#270602"/><rect x="391.64" y="413.80" width="12.43" height="1.15" fill="#080100"/><rect x="403.76" y="413.80" width="12.43" height="1.15" fill="#021701"/><rect x="415.89" y="413.80" width="12.43" height="1.15" fill="#065405"/><rect x="428.02" y="413.80" width="12.43" height="1.15" fill="#054704"/><rect x="440.15" y="413.80" width="12.43" height="1.15" fill="#032b03"/><rect x="452.28" y="413.80" width="12.43" height="1.15" fill="#010800"/><rect x="464.41" y="413.80" width="12.43" height="1.15" fill="#021902"/><rect x="476.54" y="413.80" width="12.43" height="1.15" fill="#021e02"/><rect x="488.67" y="413.80" width="12.43" height="1.15" fill="#1a0402"/><rect x="294.60" y="414.80" width="12.43" height="1.15" fill="#b2190b"/><rect x="306.73" y="414.80" width="12.43" height="1.15" fill="#c31b0c"/><rect x="318.86" y="414.80" width="12.43" height="1.15" fill="#b81a0b"/><rect x="330.99" y="414.80" width="12.43" height="1.15" fill="#cd1d0c"/><rect x="343.12" y="414.80" width="12.43" height="1.15" fill="#c81c0c"/><rect x="355.25" y="414.80" width="12.43" height="1.15" fill="#bc1a0b"/><rect x="367.38" y="414.80" width="12.43" height="1.15" fill="#d81e0d"/><rect x="379.51" y="414.80" width="12.43" height="1.15" fill="#310703"/><rect x="391.64" y="414.80" width="12.43" height="1.15" fill="#011101"/><rect x="403.76" y="414.80" width="12.43" height="1.15" fill="#054e05"/><rect x="415.89" y="414.80" width="12.43" height="1.15" fill="#054604"/><rect x="428.02" y="414.80" width="12.43" height="1.15" fill="#065405"/><rect x="440.15" y="414.80" width="12.43" height="1.15" fill="#011101"/><rect x="452.28" y="414.80" width="12.43" height="1.15" fill="#021c02"/><rect x="464.41" y="414.80" width="12.43" height="1.15" fill="#032c03"/><rect x="476.54" y="414.80" width="12.43" height="1.15" fill="#021c02"/><rect x="488.67" y="414.80" width="12.43" height="1.15" fill="#0a0101"/><rect x="294.60" y="415.80" width="12.43" height="1.15" fill="#640e06"/><rect x="306.73" y="415.80" width="12.43" height="1.15" fill="#751007"/><rect x="318.86" y="415.80" width="12.43" height="1.15" fill="#7a1107"/><rect x="330.99" y="415.80" width="12.43" height="1.15" fill="#841308"/><rect x="343.12" y="415.80" width="12.43" height="1.15" fill="#8d1408"/><rect x="355.25" y="415.80" width="12.43" height="1.15" fill="#630e06"/><rect x="367.38" y="415.80" width="12.43" height="1.15" fill="#620e06"/><rect x="379.51" y="415.80" width="12.43" height="1.15" fill="#080100"/><rect x="391.64" y="415.80" width="12.43" height="1.15" fill="#180301"/><rect x="403.76" y="415.80" width="12.43" height="1.15" fill="#054d05"/><rect x="415.89" y="415.80" width="12.43" height="1.15" fill="#043503"/><rect x="428.02" y="415.80" width="12.43" height="1.15" fill="#076506"/><rect x="440.15" y="415.80" width="12.43" height="1.15" fill="#050100"/><rect x="452.28" y="415.80" width="12.43" height="1.15" fill="#054204"/><rect x="464.41" y="415.80" width="12.43" height="1.15" fill="#054e05"/><rect x="476.54" y="415.80" width="12.43" height="1.15" fill="#065605"/><rect x="488.67" y="415.80" width="12.43" height="1.15" fill="#000700"/><rect x="294.60" y="416.80" width="12.43" height="2.15" fill="#5f0d06"/><rect x="306.73" y="416.80" width="12.43" height="2.15" fill="#6b0f06"/><rect x="318.86" y="416.80" width="12.43" height="2.15" fill="#5f0d06"/><rect x="330.99" y="416.80" width="12.43" height="2.15" fill="#640e06"/><rect x="343.12" y="416.80" width="12.43" height="2.15" fill="#791107"/><rect x="355.25" y="416.80" width="12.43" height="2.15" fill="#680f06"/><rect x="367.38" y="416.80" width="12.43" height="2.15" fill="#410904"/><rect x="379.51" y="416.80" width="12.43" height="2.15" fill="#320703"/><rect x="391.64" y="416.80" width="12.43" height="2.15" fill="#360803"/><rect x="403.76" y="416.80" width="12.43" height="2.15" fill="#080101"/><rect x="415.89" y="416.80" width="12.43" height="2.15" fill="#000500"/><rect x="428.02" y="416.80" width="12.43" height="2.15" fill="#022302"/><rect x="440.15" y="416.80" width="12.43" height="2.15" fill="#0d0201"/><rect x="452.28" y="416.80" width="12.43" height="2.15" fill="#032802"/><rect x="464.41" y="416.80" width="12.43" height="2.15" fill="#033203"/><rect x="476.54" y="416.80" width="12.43" height="2.15" fill="#390803"/><rect x="488.67" y="416.80" width="12.43" height="2.15" fill="#2e0603"/><rect x="294.60" y="418.80" width="12.43" height="1.15" fill="#ba1a0b"/><rect x="306.73" y="418.80" width="12.43" height="1.15" fill="#ad180a"/><rect x="318.86" y="418.80" width="12.43" height="1.15" fill="#971509"/><rect x="330.99" y="418.80" width="12.43" height="1.15" fill="#aa180a"/><rect x="343.12" y="418.80" width="12.43" height="1.15" fill="#941509"/><rect x="355.25" y="418.80" width="12.43" height="1.15" fill="#9c1609"/><rect x="367.38" y="418.80" width="12.43" height="1.15" fill="#a7170a"/><rect x="379.51" y="418.80" width="12.43" height="1.15" fill="#1a0402"/><rect x="391.64" y="418.80" width="12.43" height="1.15" fill="#000100"/><rect x="403.76" y="418.80" width="12.43" height="1.15" fill="#043303"/><rect x="415.89" y="418.80" width="12.43" height="1.15" fill="#0b9809"/><rect x="428.02" y="418.80" width="12.43" height="1.15" fill="#087307"/><rect x="440.15" y="418.80" width="12.43" height="1.15" fill="#064f05"/><rect x="452.28" y="418.80" width="12.43" height="1.15" fill="#021b02"/><rect x="464.41" y="418.80" width="12.43" height="1.15" fill="#043703"/><rect x="476.54" y="418.80" width="12.43" height="1.15" fill="#054104"/><rect x="488.67" y="418.80" width="12.43" height="1.15" fill="#065805"/><rect x="294.60" y="419.80" width="12.43" height="2.15" fill="#a2170a"/><rect x="306.73" y="419.80" width="12.43" height="2.15" fill="#c01b0c"/><rect x="318.86" y="419.80" width="12.43" height="2.15" fill="#b2190b"/><rect x="330.99" y="419.80" width="12.43" height="2.15" fill="#a0160a"/><rect x="343.12" y="419.80" width="12.43" height="2.15" fill="#921409"/><rect x="355.25" y="419.80" width="12.43" height="2.15" fill="#9c1609"/><rect x="367.38" y="419.80" width="12.43" height="2.15" fill="#a3170a"/><rect x="379.51" y="419.80" width="12.43" height="2.15" fill="#360803"/><rect x="391.64" y="419.80" width="12.43" height="2.15" fill="#2d0603"/><rect x="403.76" y="419.80" width="12.43" height="2.15" fill="#043303"/><rect x="415.89" y="419.80" width="12.43" height="2.15" fill="#054a04"/><rect x="428.02" y="419.80" width="12.43" height="2.15" fill="#054304"/><rect x="440.15" y="419.80" width="12.43" height="2.15" fill="#054604"/><rect x="452.28" y="419.80" width="12.43" height="2.15" fill="#043303"/><rect x="464.41" y="419.80" width="12.43" height="2.15" fill="#010c01"/><rect x="476.54" y="419.80" width="12.43" height="2.15" fill="#065305"/><rect x="488.67" y="419.80" width="12.43" height="2.15" fill="#043203"/><rect x="294.60" y="421.80" width="12.43" height="1.15" fill="#660e06"/><rect x="306.73" y="421.80" width="12.43" height="1.15" fill="#931509"/><rect x="318.86" y="421.80" width="12.43" height="1.15" fill="#961509"/><rect x="330.99" y="421.80" width="12.43" height="1.15" fill="#861308"/><rect x="343.12" y="421.80" width="12.43" height="1.15" fill="#911409"/><rect x="355.25" y="421.80" width="12.43" height="1.15" fill="#881308"/><rect x="367.38" y="421.80" width="12.43" height="1.15" fill="#741007"/><rect x="379.51" y="421.80" width="12.43" height="1.15" fill="#1c0402"/><rect x="391.64" y="421.80" width="12.43" height="1.15" fill="#200402"/><rect x="403.76" y="421.80" width="24.56" height="1.15" fill="#065105"/><rect x="428.02" y="421.80" width="12.43" height="1.15" fill="#075e06"/><rect x="440.15" y="421.80" width="12.43" height="1.15" fill="#032e03"/><rect x="452.28" y="421.80" width="12.43" height="1.15" fill="#054e05"/><rect x="464.41" y="421.80" width="12.43" height="1.15" fill="#0ca60a"/><rect x="476.54" y="421.80" width="12.43" height="1.15" fill="#076706"/><rect x="488.67" y="421.80" width="12.43" height="1.15" fill="#043403"/><rect x="294.60" y="422.80" width="12.43" height="2.15" fill="#8a1308"/><rect x="306.73" y="422.80" width="12.43" height="2.15" fill="#881308"/><rect x="318.86" y="422.80" width="12.43" height="2.15" fill="#891308"/><rect x="330.99" y="422.80" width="12.43" height="2.15" fill="#841208"/><rect x="343.12" y="422.80" width="12.43" height="2.15" fill="#861308"/><rect x="355.25" y="422.80" width="12.43" height="2.15" fill="#4c0b05"/><rect x="367.38" y="422.80" width="12.43" height="2.15" fill="#6b0f06"/><rect x="379.51" y="422.80" width="12.43" height="2.15" fill="#1b0402"/><rect x="391.64" y="422.80" width="12.43" height="2.15" fill="#300703"/><rect x="403.76" y="422.80" width="12.43" height="2.15" fill="#043703"/><rect x="415.89" y="422.80" width="12.43" height="2.15" fill="#054304"/><rect x="428.02" y="422.80" width="12.43" height="2.15" fill="#064f05"/><rect x="440.15" y="422.80" width="12.43" height="2.15" fill="#000300"/><rect x="452.28" y="422.80" width="12.43" height="2.15" fill="#075d06"/><rect x="464.41" y="422.80" width="12.43" height="2.15" fill="#022002"/><rect x="476.54" y="422.80" width="12.43" height="2.15" fill="#054c05"/><rect x="488.67" y="422.80" width="12.43" height="2.15" fill="#210502"/><rect x="294.60" y="424.80" width="12.43" height="1.65" fill="#6e0f07"/><rect x="306.73" y="424.80" width="24.56" height="1.65" fill="#7a1107"/><rect x="330.99" y="424.80" width="12.43" height="1.65" fill="#7e1208"/><rect x="343.12" y="424.80" width="12.43" height="1.65" fill="#961509"/><rect x="355.25" y="424.80" width="12.43" height="1.65" fill="#6a0f06"/><rect x="367.38" y="424.80" width="12.43" height="1.65" fill="#961509"/><rect x="379.51" y="424.80" width="12.43" height="1.65" fill="#250502"/><rect x="391.64" y="424.80" width="12.43" height="1.65" fill="#010a01"/><rect x="403.76" y="424.80" width="12.43" height="1.65" fill="#011201"/><rect x="415.89" y="424.80" width="12.43" height="1.65" fill="#010d01"/><rect x="428.02" y="424.80" width="12.43" height="1.65" fill="#000300"/><rect x="440.15" y="424.80" width="12.43" height="1.65" fill="#000400"/><rect x="452.28" y="424.80" width="24.56" height="1.65" fill="#010f01"/><rect x="476.54" y="424.80" width="12.43" height="1.65" fill="#032902"/><rect x="488.67" y="424.80" width="12.43" height="1.65" fill="#043a04"/><rect x="294.60" y="426.30" width="12.43" height="2.65" fill="#650e06"/><rect x="306.73" y="426.30" width="12.43" height="2.65" fill="#520c05"/><rect x="318.86" y="426.30" width="12.43" height="2.65" fill="#4a0a04"/><rect x="330.99" y="426.30" width="12.43" height="2.65" fill="#650e06"/><rect x="343.12" y="426.30" width="12.43" height="2.65" fill="#761107"/><rect x="355.25" y="426.30" width="24.56" height="2.65" fill="#630e06"/><rect x="379.51" y="426.30" width="12.43" height="2.65" fill="#3c0804"/><rect x="391.64" y="426.30" width="12.43" height="2.65" fill="#010a01"/><rect x="403.76" y="426.30" width="12.43" height="2.65" fill="#065905"/><rect x="415.89" y="426.30" width="12.43" height="2.65" fill="#011201"/><rect x="428.02" y="426.30" width="12.43" height="2.65" fill="#065b05"/><rect x="440.15" y="426.30" width="12.43" height="2.65" fill="#011001"/><rect x="452.28" y="426.30" width="12.43" height="2.65" fill="#010b01"/><rect x="464.41" y="426.30" width="12.43" height="2.65" fill="#130301"/><rect x="476.54" y="426.30" width="12.43" height="2.65" fill="#021c02"/><rect x="488.67" y="426.30" width="12.43" height="2.65" fill="#000200"/><rect x="294.60" y="428.80" width="12.43" height="1.15" fill="#891308"/><rect x="306.73" y="428.80" width="12.43" height="1.15" fill="#711007"/><rect x="318.86" y="428.80" width="12.43" height="1.15" fill="#a2170a"/><rect x="330.99" y="428.80" width="12.43" height="1.15" fill="#9d1609"/><rect x="343.12" y="428.80" width="12.43" height="1.15" fill="#a3170a"/><rect x="355.25" y="428.80" width="12.43" height="1.15" fill="#a2170a"/><rect x="367.38" y="428.80" width="12.43" height="1.15" fill="#941509"/><rect x="379.51" y="428.80" width="12.43" height="1.15" fill="#1f0402"/><rect x="391.64" y="428.80" width="12.43" height="1.15" fill="#350703"/><rect x="403.76" y="428.80" width="12.43" height="1.15" fill="#065605"/><rect x="415.89" y="428.80" width="12.43" height="1.15" fill="#021701"/><rect x="428.02" y="428.80" width="12.43" height="1.15" fill="#065505"/><rect x="440.15" y="428.80" width="12.43" height="1.15" fill="#054904"/><rect x="452.28" y="428.80" width="12.43" height="1.15" fill="#010d01"/><rect x="464.41" y="428.80" width="12.43" height="1.15" fill="#130301"/><rect x="476.54" y="428.80" width="12.43" height="1.15" fill="#043403"/><rect x="488.67" y="428.80" width="12.43" height="1.15" fill="#021d02"/><rect x="294.60" y="429.80" width="12.43" height="1.15" fill="#951509"/><rect x="306.73" y="429.80" width="12.43" height="1.15" fill="#af190b"/><rect x="318.86" y="429.80" width="12.43" height="1.15" fill="#8c1408"/><rect x="330.99" y="429.80" width="12.43" height="1.15" fill="#9a1509"/><rect x="343.12" y="429.80" width="12.43" height="1.15" fill="#d11d0d"/><rect x="355.25" y="429.80" width="12.43" height="1.15" fill="#911409"/><rect x="367.38" y="429.80" width="12.43" height="1.15" fill="#9e160a"/><rect x="379.51" y="429.80" width="24.56" height="1.15" fill="#240502"/><rect x="403.76" y="429.80" width="12.43" height="1.15" fill="#087507"/><rect x="415.89" y="429.80" width="12.43" height="1.15" fill="#065b05"/><rect x="428.02" y="429.80" width="12.43" height="1.15" fill="#075f06"/><rect x="440.15" y="429.80" width="12.43" height="1.15" fill="#044004"/><rect x="452.28" y="429.80" width="12.43" height="1.15" fill="#043503"/><rect x="464.41" y="429.80" width="12.43" height="1.15" fill="#065505"/><rect x="476.54" y="429.80" width="12.43" height="1.15" fill="#054104"/><rect x="488.67" y="429.80" width="12.43" height="1.15" fill="#022102"/><rect x="294.60" y="430.80" width="12.43" height="2.15" fill="#991509"/><rect x="306.73" y="430.80" width="12.43" height="2.15" fill="#a7170a"/><rect x="318.86" y="430.80" width="12.43" height="2.15" fill="#ab180a"/><rect x="330.99" y="430.80" width="12.43" height="2.15" fill="#9e1609"/><rect x="343.12" y="430.80" width="12.43" height="2.15" fill="#ac180a"/><rect x="355.25" y="430.80" width="12.43" height="2.15" fill="#811208"/><rect x="367.38" y="430.80" width="12.43" height="2.15" fill="#9e1609"/><rect x="379.51" y="430.80" width="12.43" height="2.15" fill="#230502"/><rect x="391.64" y="430.80" width="12.43" height="2.15" fill="#3d0904"/><rect x="403.76" y="430.80" width="12.43" height="2.15" fill="#043b04"/><rect x="415.89" y="430.80" width="12.43" height="2.15" fill="#054604"/><rect x="428.02" y="430.80" width="12.43" height="2.15" fill="#033203"/><rect x="440.15" y="430.80" width="12.43" height="2.15" fill="#021801"/><rect x="452.28" y="430.80" width="12.43" height="2.15" fill="#022002"/><rect x="464.41" y="430.80" width="12.43" height="2.15" fill="#043e04"/><rect x="476.54" y="430.80" width="12.43" height="2.15" fill="#000600"/><rect x="488.67" y="430.80" width="12.43" height="2.15" fill="#021601"/><rect x="294.60" y="432.80" width="12.43" height="1.65" fill="#690f06"/><rect x="306.73" y="432.80" width="12.43" height="1.65" fill="#640e06"/><rect x="318.86" y="432.80" width="12.43" height="1.65" fill="#801208"/><rect x="330.99" y="432.80" width="12.43" height="1.65" fill="#7e1208"/><rect x="343.12" y="432.80" width="12.43" height="1.65" fill="#751007"/><rect x="355.25" y="432.80" width="12.43" height="1.65" fill="#7b1107"/><rect x="367.38" y="432.80" width="12.43" height="1.65" fill="#610e06"/><rect x="379.51" y="432.80" width="12.43" height="1.65" fill="#340703"/><rect x="391.64" y="432.80" width="12.43" height="1.65" fill="#230502"/><rect x="403.76" y="432.80" width="12.43" height="1.65" fill="#097f08"/><rect x="415.89" y="432.80" width="12.43" height="1.65" fill="#021b02"/><rect x="428.02" y="432.80" width="12.43" height="1.65" fill="#087207"/><rect x="440.15" y="432.80" width="12.43" height="1.65" fill="#054d05"/><rect x="452.28" y="432.80" width="12.43" height="1.65" fill="#022402"/><rect x="464.41" y="432.80" width="12.43" height="1.65" fill="#054a04"/><rect x="476.54" y="432.80" width="12.43" height="1.65" fill="#022202"/><rect x="488.67" y="432.80" width="12.43" height="1.65" fill="#032d03"/><rect x="294.60" y="434.30" width="12.43" height="2.65" fill="#8f1409"/><rect x="306.73" y="434.30" width="12.43" height="2.65" fill="#961509"/><rect x="318.86" y="434.30" width="12.43" height="2.65" fill="#a2170a"/><rect x="330.99" y="434.30" width="12.43" height="2.65" fill="#961509"/><rect x="343.12" y="434.30" width="12.43" height="2.65" fill="#9a1609"/><rect x="355.25" y="434.30" width="12.43" height="2.65" fill="#b2190b"/><rect x="367.38" y="434.30" width="12.43" height="2.65" fill="#951509"/><rect x="379.51" y="434.30" width="12.43" height="2.65" fill="#240502"/><rect x="391.64" y="434.30" width="12.43" height="2.65" fill="#540c05"/><rect x="403.76" y="434.30" width="12.43" height="2.65" fill="#043303"/><rect x="415.89" y="434.30" width="12.43" height="2.65" fill="#087307"/><rect x="428.02" y="434.30" width="12.43" height="2.65" fill="#043403"/><rect x="440.15" y="434.30" width="24.56" height="2.65" fill="#032702"/><rect x="464.41" y="434.30" width="12.43" height="2.65" fill="#064f05"/><rect x="476.54" y="434.30" width="12.43" height="2.65" fill="#065405"/><rect x="488.67" y="434.30" width="12.43" height="2.65" fill="#021901"/><rect x="294.60" y="436.80" width="12.43" height="1.65" fill="#a4170a"/><rect x="306.73" y="436.80" width="12.43" height="1.65" fill="#a7170a"/><rect x="318.86" y="436.80" width="12.43" height="1.65" fill="#bc1a0b"/><rect x="330.99" y="436.80" width="12.43" height="1.65" fill="#ac180a"/><rect x="343.12" y="436.80" width="12.43" height="1.65" fill="#b5190b"/><rect x="355.25" y="436.80" width="12.43" height="1.65" fill="#a4170a"/><rect x="367.38" y="436.80" width="12.43" height="1.65" fill="#af180a"/><rect x="379.51" y="436.80" width="12.43" height="1.65" fill="#1f0402"/><rect x="391.64" y="436.80" width="12.43" height="1.65" fill="#5b0d05"/><rect x="403.76" y="436.80" width="12.43" height="1.65" fill="#043603"/><rect x="415.89" y="436.80" width="12.43" height="1.65" fill="#043c04"/><rect x="428.02" y="436.80" width="12.43" height="1.65" fill="#065405"/><rect x="440.15" y="436.80" width="12.43" height="1.65" fill="#010000"/><rect x="452.28" y="436.80" width="12.43" height="1.65" fill="#033103"/><rect x="464.41" y="436.80" width="12.43" height="1.65" fill="#011001"/><rect x="476.54" y="436.80" width="12.43" height="1.65" fill="#043303"/><rect x="488.67" y="436.80" width="12.43" height="1.65" fill="#043e04"/><rect x="294.60" y="438.30" width="12.43" height="1.65" fill="#9a1609"/><rect x="306.73" y="438.30" width="12.43" height="1.65" fill="#851308"/><rect x="318.86" y="438.30" width="12.43" height="1.65" fill="#941509"/><rect x="330.99" y="438.30" width="12.43" height="1.65" fill="#5c0d05"/><rect x="343.12" y="438.30" width="12.43" height="1.65" fill="#7a1107"/><rect x="355.25" y="438.30" width="12.43" height="1.65" fill="#7c1107"/><rect x="367.38" y="438.30" width="12.43" height="1.65" fill="#791107"/><rect x="379.51" y="438.30" width="12.43" height="1.65" fill="#270502"/><rect x="391.64" y="438.30" width="12.43" height="1.65" fill="#190301"/><rect x="403.76" y="438.30" width="12.43" height="1.65" fill="#010b01"/><rect x="415.89" y="438.30" width="12.43" height="1.65" fill="#054a04"/><rect x="428.02" y="438.30" width="12.43" height="1.65" fill="#010901"/><rect x="440.15" y="438.30" width="12.43" height="1.65" fill="#200402"/><rect x="452.28" y="438.30" width="12.43" height="1.65" fill="#010c01"/><rect x="464.41" y="438.30" width="12.43" height="1.65" fill="#022002"/><rect x="476.54" y="438.30" width="12.43" height="1.65" fill="#033003"/><rect x="488.67" y="438.30" width="12.43" height="1.65" fill="#011001"/><rect x="294.60" y="439.80" width="12.43" height="1.15" fill="#c21b0c"/><rect x="306.73" y="439.80" width="12.43" height="1.15" fill="#8b1308"/><rect x="318.86" y="439.80" width="12.43" height="1.15" fill="#b81a0b"/><rect x="330.99" y="439.80" width="12.43" height="1.15" fill="#bd1a0b"/><rect x="343.12" y="439.80" width="12.43" height="1.15" fill="#b81a0b"/><rect x="355.25" y="439.80" width="12.43" height="1.15" fill="#b3190b"/><rect x="367.38" y="439.80" width="12.43" height="1.15" fill="#ac180a"/><rect x="379.51" y="439.80" width="12.43" height="1.15" fill="#2f0703"/><rect x="391.64" y="439.80" width="12.43" height="1.15" fill="#3b0804"/><rect x="403.76" y="439.80" width="12.43" height="1.15" fill="#043a03"/><rect x="415.89" y="439.80" width="12.43" height="1.15" fill="#033003"/><rect x="428.02" y="439.80" width="12.43" height="1.15" fill="#021801"/><rect x="440.15" y="439.80" width="12.43" height="1.15" fill="#100201"/><rect x="452.28" y="439.80" width="12.43" height="1.15" fill="#1f0402"/><rect x="464.41" y="439.80" width="12.43" height="1.15" fill="#190402"/><rect x="476.54" y="439.80" width="12.43" height="1.15" fill="#2f0703"/><rect x="488.67" y="439.80" width="12.43" height="1.15" fill="#1b0402"/><rect x="294.60" y="440.80" width="12.43" height="1.15" fill="#a5170a"/><rect x="306.73" y="440.80" width="12.43" height="1.15" fill="#991509"/><rect x="318.86" y="440.80" width="12.43" height="1.15" fill="#c21b0c"/><rect x="330.99" y="440.80" width="12.43" height="1.15" fill="#a6170a"/><rect x="343.12" y="440.80" width="12.43" height="1.15" fill="#b0190b"/><rect x="355.25" y="440.80" width="12.43" height="1.15" fill="#b3190b"/><rect x="367.38" y="440.80" width="12.43" height="1.15" fill="#871308"/><rect x="379.51" y="440.80" width="12.43" height="1.15" fill="#1c0402"/><rect x="391.64" y="440.80" width="12.43" height="1.15" fill="#480a04"/><rect x="403.76" y="440.80" width="12.43" height="1.15" fill="#043803"/><rect x="415.89" y="440.80" width="12.43" height="1.15" fill="#054404"/><rect x="428.02" y="440.80" width="12.43" height="1.15" fill="#076406"/><rect x="440.15" y="440.80" width="12.43" height="1.15" fill="#090101"/><rect x="452.28" y="440.80" width="12.43" height="1.15" fill="#032a03"/><rect x="464.41" y="440.80" width="12.43" height="1.15" fill="#032602"/><rect x="476.54" y="440.80" width="12.43" height="1.15" fill="#021f02"/><rect x="488.67" y="440.80" width="12.43" height="1.15" fill="#0b0101"/><rect x="294.60" y="441.80" width="12.43" height="2.65" fill="#d61e0d"/><rect x="306.73" y="441.80" width="12.43" height="2.65" fill="#e01f0d"/><rect x="318.86" y="441.80" width="12.43" height="2.65" fill="#ab180a"/><rect x="330.99" y="441.80" width="12.43" height="2.65" fill="#c21b0c"/><rect x="343.12" y="441.80" width="12.43" height="2.65" fill="#d91e0d"/><rect x="355.25" y="441.80" width="12.43" height="2.65" fill="#c31b0c"/><rect x="367.38" y="441.80" width="12.43" height="2.65" fill="#aa180a"/><rect x="379.51" y="441.80" width="12.43" height="2.65" fill="#590d05"/><rect x="391.64" y="441.80" width="12.43" height="2.65" fill="#1e0402"/><rect x="403.76" y="441.80" width="12.43" height="2.65" fill="#065605"/><rect x="415.89" y="441.80" width="12.43" height="2.65" fill="#010b01"/><rect x="428.02" y="441.80" width="12.43" height="2.65" fill="#065605"/><rect x="440.15" y="441.80" width="12.43" height="2.65" fill="#1a0402"/><rect x="452.28" y="441.80" width="12.43" height="2.65" fill="#054804"/><rect x="464.41" y="441.80" width="12.43" height="2.65" fill="#033103"/><rect x="476.54" y="441.80" width="12.43" height="2.65" fill="#076306"/><rect x="488.67" y="441.80" width="12.43" height="2.65" fill="#000600"/><rect x="294.60" y="444.30" width="12.43" height="1.15" fill="#881308"/><rect x="306.73" y="444.30" width="12.43" height="1.15" fill="#8a1308"/><rect x="318.86" y="444.30" width="12.43" height="1.15" fill="#8b1308"/><rect x="330.99" y="444.30" width="12.43" height="1.15" fill="#831208"/><rect x="343.12" y="444.30" width="12.43" height="1.15" fill="#8e1409"/><rect x="355.25" y="444.30" width="12.43" height="1.15" fill="#781107"/><rect x="367.38" y="444.30" width="12.43" height="1.15" fill="#841208"/><rect x="379.51" y="444.30" width="12.43" height="1.15" fill="#240502"/><rect x="391.64" y="444.30" width="12.43" height="1.15" fill="#821208"/><rect x="403.76" y="444.30" width="12.43" height="1.15" fill="#054e05"/><rect x="415.89" y="444.30" width="12.43" height="1.15" fill="#010f01"/><rect x="428.02" y="444.30" width="12.43" height="1.15" fill="#021801"/><rect x="440.15" y="444.30" width="12.43" height="1.15" fill="#043203"/><rect x="452.28" y="444.30" width="12.43" height="1.15" fill="#0c0201"/><rect x="464.41" y="444.30" width="12.43" height="1.15" fill="#032f03"/><rect x="476.54" y="444.30" width="12.43" height="1.15" fill="#010800"/><rect x="488.67" y="444.30" width="12.43" height="1.15" fill="#430904"/><rect x="294.60" y="445.30" width="12.43" height="2.65" fill="#be1b0b"/><rect x="306.73" y="445.30" width="12.43" height="2.65" fill="#b81a0b"/><rect x="318.86" y="445.30" width="12.43" height="2.65" fill="#de1f0d"/><rect x="330.99" y="445.30" width="12.43" height="2.65" fill="#d41e0d"/><rect x="343.12" y="445.30" width="12.43" height="2.65" fill="#c31b0c"/><rect x="355.25" y="445.30" width="12.43" height="2.65" fill="#fa230f"/><rect x="367.38" y="445.30" width="12.43" height="2.65" fill="#b81a0b"/><rect x="379.51" y="445.30" width="12.43" height="2.65" fill="#380803"/><rect x="391.64" y="445.30" width="12.43" height="2.65" fill="#2b0603"/><rect x="403.76" y="445.30" width="12.43" height="2.65" fill="#022102"/><rect x="415.89" y="445.30" width="12.43" height="2.65" fill="#022002"/><rect x="428.02" y="445.30" width="12.43" height="2.65" fill="#0f0201"/><rect x="440.15" y="445.30" width="12.43" height="2.65" fill="#280602"/><rect x="452.28" y="445.30" width="12.43" height="2.65" fill="#050100"/><rect x="464.41" y="445.30" width="12.43" height="2.65" fill="#010c01"/><rect x="476.54" y="445.30" width="12.43" height="2.65" fill="#130301"/><rect x="488.67" y="445.30" width="12.43" height="2.65" fill="#000500"/><rect x="294.60" y="447.80" width="12.43" height="1.15" fill="#ae180a"/><rect x="306.73" y="447.80" width="12.43" height="1.15" fill="#e01f0d"/><rect x="318.86" y="447.80" width="12.43" height="1.15" fill="#d81e0d"/><rect x="330.99" y="447.80" width="12.43" height="1.15" fill="#d31d0d"/><rect x="343.12" y="447.80" width="12.43" height="1.15" fill="#d31e0d"/><rect x="355.25" y="447.80" width="12.43" height="1.15" fill="#e8200e"/><rect x="367.38" y="447.80" width="12.43" height="1.15" fill="#c61c0c"/><rect x="379.51" y="447.80" width="12.43" height="1.15" fill="#260502"/><rect x="391.64" y="447.80" width="12.43" height="1.15" fill="#480a04"/><rect x="403.76" y="447.80" width="12.43" height="1.15" fill="#032502"/><rect x="415.89" y="447.80" width="12.43" height="1.15" fill="#021e02"/><rect x="428.02" y="447.80" width="12.43" height="1.15" fill="#054d05"/><rect x="440.15" y="447.80" width="12.43" height="1.15" fill="#1b0402"/><rect x="452.28" y="447.80" width="12.43" height="1.15" fill="#054804"/><rect x="464.41" y="447.80" width="12.43" height="1.15" fill="#011101"/><rect x="476.54" y="447.80" width="12.43" height="1.15" fill="#043803"/><rect x="488.67" y="447.80" width="12.43" height="1.15" fill="#010e01"/><rect x="294.60" y="448.80" width="12.43" height="1.65" fill="#d91e0d"/><rect x="306.73" y="448.80" width="12.43" height="1.65" fill="#ee210e"/><rect x="318.86" y="448.80" width="24.56" height="1.65" fill="#dd1f0d"/><rect x="343.12" y="448.80" width="12.43" height="1.65" fill="#ec210e"/><rect x="355.25" y="448.80" width="12.43" height="1.65" fill="#e2200e"/><rect x="367.38" y="448.80" width="12.43" height="1.65" fill="#e5200e"/><rect x="379.51" y="448.80" width="12.43" height="1.65" fill="#c21b0c"/><rect x="391.64" y="448.80" width="12.43" height="1.65" fill="#781107"/><rect x="403.76" y="448.80" width="12.43" height="1.65" fill="#871308"/><rect x="415.89" y="448.80" width="12.43" height="1.65" fill="#010000"/><rect x="428.02" y="448.80" width="12.43" height="1.65" fill="#811208"/><rect x="440.15" y="448.80" width="12.43" height="1.65" fill="#3f0904"/><rect x="452.28" y="448.80" width="12.43" height="1.65" fill="#630e06"/><rect x="464.41" y="448.80" width="12.43" height="1.65" fill="#610e06"/><rect x="476.54" y="448.80" width="12.43" height="1.65" fill="#510b05"/><rect x="488.67" y="448.80" width="12.43" height="1.65" fill="#9a1609"/><rect x="294.60" y="450.30" width="12.43" height="1.15" fill="#f5220f"/><rect x="306.73" y="450.30" width="12.43" height="1.15" fill="#d11d0d"/><rect x="318.86" y="450.30" width="12.43" height="1.15" fill="#fa230f"/><rect x="330.99" y="450.30" width="12.43" height="1.15" fill="#ed210e"/><rect x="343.12" y="450.30" width="24.56" height="1.15" fill="#fa230f"/><rect x="367.38" y="450.30" width="12.43" height="1.15" fill="#ee210e"/><rect x="379.51" y="450.30" width="12.43" height="1.15" fill="#9d1609"/><rect x="391.64" y="450.30" width="12.43" height="1.15" fill="#590c05"/><rect x="403.76" y="450.30" width="12.43" height="1.15" fill="#5b0d05"/><rect x="415.89" y="450.30" width="12.43" height="1.15" fill="#851308"/><rect x="428.02" y="450.30" width="12.43" height="1.15" fill="#821208"/><rect x="440.15" y="450.30" width="12.43" height="1.15" fill="#741007"/><rect x="452.28" y="450.30" width="12.43" height="1.15" fill="#781107"/><rect x="464.41" y="450.30" width="12.43" height="1.15" fill="#380803"/><rect x="476.54" y="450.30" width="12.43" height="1.15" fill="#af190b"/><rect x="488.67" y="450.30" width="12.43" height="1.15" fill="#600d06"/><rect x="294.60" y="451.30" width="12.43" height="1.15" fill="#e5200e"/><rect x="306.73" y="451.30" width="12.43" height="1.15" fill="#f0220e"/><rect x="318.86" y="451.30" width="24.56" height="1.15" fill="#df1f0d"/><rect x="343.12" y="451.30" width="12.43" height="1.15" fill="#e5200e"/><rect x="355.25" y="451.30" width="12.43" height="1.15" fill="#e01f0d"/><rect x="367.38" y="451.30" width="12.43" height="1.15" fill="#de1f0d"/><rect x="379.51" y="451.30" width="12.43" height="1.15" fill="#a2170a"/><rect x="391.64" y="451.30" width="12.43" height="1.15" fill="#811208"/><rect x="403.76" y="451.30" width="12.43" height="1.15" fill="#7c1107"/><rect x="415.89" y="451.30" width="12.43" height="1.15" fill="#7a1107"/><rect x="428.02" y="451.30" width="12.43" height="1.15" fill="#4d0b05"/><rect x="440.15" y="451.30" width="12.43" height="1.15" fill="#ab180a"/><rect x="452.28" y="451.30" width="12.43" height="1.15" fill="#721007"/><rect x="464.41" y="451.30" width="12.43" height="1.15" fill="#4b0a04"/><rect x="476.54" y="451.30" width="12.43" height="1.15" fill="#881308"/><rect x="488.67" y="451.30" width="12.43" height="1.15" fill="#590c05"/><rect x="294.60" y="452.30" width="12.43" height="2.65" fill="#e2200e"/><rect x="306.73" y="452.30" width="12.43" height="2.65" fill="#fa230f"/><rect x="318.86" y="452.30" width="12.43" height="2.65" fill="#f5220f"/><rect x="330.99" y="452.30" width="12.43" height="2.65" fill="#e8210e"/><rect x="343.12" y="452.30" width="12.43" height="2.65" fill="#e9210e"/><rect x="355.25" y="452.30" width="12.43" height="2.65" fill="#de1f0d"/><rect x="367.38" y="452.30" width="12.43" height="2.65" fill="#d41e0d"/><rect x="379.51" y="452.30" width="12.43" height="2.65" fill="#971509"/><rect x="391.64" y="452.30" width="24.56" height="2.65" fill="#771107"/><rect x="415.89" y="452.30" width="12.43" height="2.65" fill="#500b05"/><rect x="428.02" y="452.30" width="12.43" height="2.65" fill="#7f1208"/><rect x="440.15" y="452.30" width="12.43" height="2.65" fill="#550c05"/><rect x="452.28" y="452.30" width="12.43" height="2.65" fill="#a6170a"/><rect x="464.41" y="452.30" width="12.43" height="2.65" fill="#540c05"/><rect x="476.54" y="452.30" width="12.43" height="2.65" fill="#731007"/><rect x="488.67" y="452.30" width="12.43" height="2.65" fill="#c71c0c"/><rect x="294.60" y="454.80" width="12.43" height="1.15" fill="#e6200e"/><rect x="306.73" y="454.80" width="12.43" height="1.15" fill="#da1e0d"/><rect x="318.86" y="454.80" width="12.43" height="1.15" fill="#ee210e"/><rect x="330.99" y="454.80" width="12.43" height="1.15" fill="#f3220f"/><rect x="343.12" y="454.80" width="12.43" height="1.15" fill="#ef220e"/><rect x="355.25" y="454.80" width="12.43" height="1.15" fill="#f1220e"/><rect x="367.38" y="454.80" width="12.43" height="1.15" fill="#e7200e"/><rect x="379.51" y="454.80" width="12.43" height="1.15" fill="#9d1609"/><rect x="391.64" y="454.80" width="12.43" height="1.15" fill="#9e160a"/><rect x="403.76" y="454.80" width="12.43" height="1.15" fill="#951509"/><rect x="415.89" y="454.80" width="12.43" height="1.15" fill="#5c0d06"/><rect x="428.02" y="454.80" width="12.43" height="1.15" fill="#390803"/><rect x="440.15" y="454.80" width="24.56" height="1.15" fill="#6f1007"/><rect x="464.41" y="454.80" width="12.43" height="1.15" fill="#6b0f06"/><rect x="476.54" y="454.80" width="12.43" height="1.15" fill="#540c05"/><rect x="488.67" y="454.80" width="12.43" height="1.15" fill="#721007"/><rect x="294.60" y="455.80" width="12.43" height="2.15" fill="#f7230f"/><rect x="306.73" y="455.80" width="12.43" height="2.15" fill="#e8210e"/><rect x="318.86" y="455.80" width="12.43" height="2.15" fill="#d01d0c"/><rect x="330.99" y="455.80" width="24.56" height="2.15" fill="#fa230f"/><rect x="355.25" y="455.80" width="12.43" height="2.15" fill="#e6200e"/><rect x="367.38" y="455.80" width="12.43" height="2.15" fill="#fa230f"/><rect x="379.51" y="455.80" width="12.43" height="2.15" fill="#db1f0d"/><rect x="391.64" y="455.80" width="12.43" height="2.15" fill="#821208"/><rect x="403.76" y="455.80" width="12.43" height="2.15" fill="#480a04"/><rect x="415.89" y="455.80" width="12.43" height="2.15" fill="#640e06"/><rect x="428.02" y="455.80" width="12.43" height="2.15" fill="#841208"/><rect x="440.15" y="455.80" width="12.43" height="2.15" fill="#a8180a"/><rect x="452.28" y="455.80" width="12.43" height="2.15" fill="#0c0201"/><rect x="464.41" y="455.80" width="12.43" height="2.15" fill="#580c05"/><rect x="476.54" y="455.80" width="12.43" height="2.15" fill="#951509"/><rect x="488.67" y="455.80" width="12.43" height="2.15" fill="#400904"/><rect x="294.60" y="457.80" width="12.43" height="1.65" fill="#d41e0d"/><rect x="306.73" y="457.80" width="12.43" height="1.65" fill="#871308"/><rect x="318.86" y="457.80" width="12.43" height="1.65" fill="#aa180a"/><rect x="330.99" y="457.80" width="24.56" height="1.65" fill="#941509"/><rect x="355.25" y="457.80" width="12.43" height="1.65" fill="#b4190b"/><rect x="367.38" y="457.80" width="12.43" height="1.65" fill="#941509"/><rect x="379.51" y="457.80" width="12.43" height="1.65" fill="#4e0b05"/><rect x="391.64" y="457.80" width="12.43" height="1.65" fill="#1c0402"/><rect x="403.76" y="457.80" width="12.43" height="1.65" fill="#470a04"/><rect x="415.89" y="457.80" width="12.43" height="1.65" fill="#480a04"/><rect x="428.02" y="457.80" width="12.43" height="1.65" fill="#610e06"/><rect x="440.15" y="457.80" width="12.43" height="1.65" fill="#000100"/><rect x="452.28" y="457.80" width="12.43" height="1.65" fill="#300703"/><rect x="464.41" y="457.80" width="12.43" height="1.65" fill="#340703"/><rect x="476.54" y="457.80" width="12.43" height="1.65" fill="#540c05"/><rect x="488.67" y="457.80" width="12.43" height="1.65" fill="#270602"/><rect x="294.60" y="459.30" width="12.43" height="1.65" fill="#a4170a"/><rect x="306.73" y="459.30" width="12.43" height="1.65" fill="#ba1a0b"/><rect x="318.86" y="459.30" width="12.43" height="1.65" fill="#b2190b"/><rect x="330.99" y="459.30" width="12.43" height="1.65" fill="#b4190b"/><rect x="343.12" y="459.30" width="12.43" height="1.65" fill="#ae180a"/><rect x="355.25" y="459.30" width="12.43" height="1.65" fill="#b3190b"/><rect x="367.38" y="459.30" width="12.43" height="1.65" fill="#a8180a"/><rect x="379.51" y="459.30" width="12.43" height="1.65" fill="#741007"/><rect x="391.64" y="459.30" width="12.43" height="1.65" fill="#060100"/><rect x="403.76" y="459.30" width="12.43" height="1.65" fill="#570c05"/><rect x="415.89" y="459.30" width="12.43" height="1.65" fill="#3d0904"/><rect x="428.02" y="459.30" width="12.43" height="1.65" fill="#320703"/><rect x="440.15" y="459.30" width="12.43" height="1.65" fill="#340703"/><rect x="452.28" y="459.30" width="12.43" height="1.65" fill="#0b0201"/><rect x="464.41" y="459.30" width="12.43" height="1.65" fill="#1c0402"/><rect x="476.54" y="459.30" width="12.43" height="1.65" fill="#160301"/><rect x="488.67" y="459.30" width="12.43" height="1.65" fill="#450a04"/><rect x="294.60" y="460.80" width="12.43" height="1.15" fill="#9c1609"/><rect x="306.73" y="460.80" width="12.43" height="1.15" fill="#9f160a"/><rect x="318.86" y="460.80" width="12.43" height="1.15" fill="#ca1c0c"/><rect x="330.99" y="460.80" width="12.43" height="1.15" fill="#af190b"/><rect x="343.12" y="460.80" width="12.43" height="1.15" fill="#bd1a0b"/><rect x="355.25" y="460.80" width="12.43" height="1.15" fill="#8f1409"/><rect x="367.38" y="460.80" width="12.43" height="1.15" fill="#a4170a"/><rect x="379.51" y="460.80" width="12.43" height="1.15" fill="#660e06"/><rect x="391.64" y="460.80" width="12.43" height="1.15" fill="#070100"/><rect x="403.76" y="460.80" width="12.43" height="1.15" fill="#390803"/><rect x="415.89" y="460.80" width="12.43" height="1.15" fill="#230502"/><rect x="428.02" y="460.80" width="12.43" height="1.15" fill="#320703"/><rect x="440.15" y="460.80" width="12.43" height="1.15" fill="#330703"/><rect x="452.28" y="460.80" width="12.43" height="1.15" fill="#100201"/><rect x="464.41" y="460.80" width="12.43" height="1.15" fill="#410904"/><rect x="476.54" y="460.80" width="12.43" height="1.15" fill="#3e0904"/><rect x="488.67" y="460.80" width="12.43" height="1.15" fill="#280602"/><rect x="294.60" y="461.80" width="12.43" height="2.15" fill="#c11b0c"/><rect x="306.73" y="461.80" width="12.43" height="2.15" fill="#8c1408"/><rect x="318.86" y="461.80" width="12.43" height="2.15" fill="#a0160a"/><rect x="330.99" y="461.80" width="12.43" height="2.15" fill="#a5170a"/><rect x="343.12" y="461.80" width="12.43" height="2.15" fill="#aa180a"/><rect x="355.25" y="461.80" width="12.43" height="2.15" fill="#981509"/><rect x="367.38" y="461.80" width="12.43" height="2.15" fill="#8e1409"/><rect x="379.51" y="461.80" width="12.43" height="2.15" fill="#380803"/><rect x="391.64" y="461.80" width="12.43" height="2.15" fill="#290602"/><rect x="403.76" y="461.80" width="12.43" height="2.15" fill="#2e0603"/><rect x="415.89" y="461.80" width="12.43" height="2.15" fill="#1d0402"/><rect x="428.02" y="461.80" width="12.43" height="2.15" fill="#450a04"/><rect x="440.15" y="461.80" width="12.43" height="2.15" fill="#4f0b05"/><rect x="452.28" y="461.80" width="12.43" height="2.15" fill="#220502"/><rect x="464.41" y="461.80" width="12.43" height="2.15" fill="#000600"/><rect x="476.54" y="461.80" width="12.43" height="2.15" fill="#5c0d06"/><rect x="488.67" y="461.80" width="12.43" height="2.15" fill="#1c0402"/><rect x="294.60" y="463.80" width="12.43" height="2.65" fill="#971509"/><rect x="306.73" y="463.80" width="12.43" height="2.65" fill="#921409"/><rect x="318.86" y="463.80" width="12.43" height="2.65" fill="#b81a0b"/><rect x="330.99" y="463.80" width="12.43" height="2.65" fill="#a4170a"/><rect x="343.12" y="463.80" width="12.43" height="2.65" fill="#bb1a0b"/><rect x="355.25" y="463.80" width="12.43" height="2.65" fill="#9f160a"/><rect x="367.38" y="463.80" width="12.43" height="2.65" fill="#8d1408"/><rect x="379.51" y="463.80" width="12.43" height="2.65" fill="#3a0804"/><rect x="391.64" y="463.80" width="12.43" height="2.65" fill="#011301"/><rect x="403.76" y="463.80" width="12.43" height="2.65" fill="#380803"/><rect x="415.89" y="463.80" width="12.43" height="2.65" fill="#100201"/><rect x="428.02" y="463.80" width="12.43" height="2.65" fill="#190402"/><rect x="440.15" y="463.80" width="12.43" height="2.65" fill="#2a0603"/><rect x="452.28" y="463.80" width="12.43" height="2.65" fill="#3f0904"/><rect x="464.41" y="463.80" width="12.43" height="2.65" fill="#1d0402"/><rect x="476.54" y="463.80" width="12.43" height="2.65" fill="#230502"/><rect x="488.67" y="463.80" width="12.43" height="2.65" fill="#3a0803"/><rect x="294.60" y="466.30" width="12.43" height="1.65" fill="#d11d0d"/><rect x="306.73" y="466.30" width="12.43" height="1.65" fill="#b5190b"/><rect x="318.86" y="466.30" width="12.43" height="1.65" fill="#ce1d0c"/><rect x="330.99" y="466.30" width="12.43" height="1.65" fill="#b91a0b"/><rect x="343.12" y="466.30" width="12.43" height="1.65" fill="#a0160a"/><rect x="355.25" y="466.30" width="12.43" height="1.65" fill="#b91a0b"/><rect x="367.38" y="466.30" width="12.43" height="1.65" fill="#b4190b"/><rect x="379.51" y="466.30" width="12.43" height="1.65" fill="#470a04"/><rect x="391.64" y="466.30" width="12.43" height="1.65" fill="#200402"/><rect x="403.76" y="466.30" width="12.43" height="1.65" fill="#130301"/><rect x="415.89" y="466.30" width="12.43" height="1.65" fill="#280602"/><rect x="428.02" y="466.30" width="12.43" height="1.65" fill="#500b05"/><rect x="440.15" y="466.30" width="12.43" height="1.65" fill="#6a0f06"/><rect x="452.28" y="466.30" width="12.43" height="1.65" fill="#220502"/><rect x="464.41" y="466.30" width="12.43" height="1.65" fill="#2d0603"/><rect x="476.54" y="466.30" width="12.43" height="1.65" fill="#160301"/><rect x="488.67" y="466.30" width="12.43" height="1.65" fill="#390803"/><rect x="294.60" y="467.80" width="12.43" height="2.05" fill="#731007"/><rect x="306.73" y="467.80" width="12.43" height="2.05" fill="#ab180a"/><rect x="318.86" y="467.80" width="12.43" height="2.05" fill="#a2170a"/><rect x="330.99" y="467.80" width="12.43" height="2.05" fill="#ad180a"/><rect x="343.12" y="467.80" width="12.43" height="2.05" fill="#a4170a"/><rect x="355.25" y="467.80" width="12.43" height="2.05" fill="#a6170a"/><rect x="367.38" y="467.80" width="12.43" height="2.05" fill="#a7170a"/><rect x="379.51" y="467.80" width="12.43" height="2.05" fill="#390803"/><rect x="391.64" y="467.80" width="12.43" height="2.05" fill="#3e0904"/><rect x="403.76" y="467.80" width="12.43" height="2.05" fill="#3d0904"/><rect x="415.89" y="467.80" width="12.43" height="2.05" fill="#210502"/><rect x="428.02" y="467.80" width="12.43" height="2.05" fill="#3e0904"/><rect x="440.15" y="467.80" width="12.43" height="2.05" fill="#490a04"/><rect x="452.28" y="467.80" width="12.43" height="2.05" fill="#230502"/><rect x="464.41" y="467.80" width="12.43" height="2.05" fill="#370803"/><rect x="476.54" y="467.80" width="12.43" height="2.05" fill="#4d0b05"/><rect x="488.67" y="467.80" width="12.43" height="2.05" fill="#410904"/></g>
<rect x="294.7" y="370.8" width="206.1" height="1" fill="#fff" fill-opacity="0.75"/>
<defs><linearGradient id="lg" x1="0" x2="1" y1="0" y2="0"><stop offset="0" stop-color="#ff2000"/><stop offset="0.15" stop-color="#e01800"/><stop offset="0.5" stop-color="#000"/><stop offset="0.85" stop-color="#00e000"/><stop offset="1" stop-color="#00ff10"/></linearGradient></defs>
<rect x="459.1" y="215.7" width="38.1" height="26.3" fill="url(#lg)"/>
<text x="460.1" y="195" font-size="7" font-weight="bold" font-family="Liberation Sans, sans-serif">High</text>
<text x="485.6" y="195" font-size="7" font-weight="bold" font-family="Liberation Sans, sans-serif">Low</text>
<text x="479.9" y="203.5" text-anchor="middle" font-size="7" font-weight="bold" font-family="Liberation Sans, sans-serif">Methylation</text>
<text x="479.7" y="212.8" text-anchor="middle" font-size="7" font-weight="bold" font-family="Liberation Sans, sans-serif">Log2(Hpa2/Msp1)</text>
<text x="458.7" y="251.5" text-anchor="middle" font-size="6.5" font-weight="bold" font-family="Liberation Sans, sans-serif">-4</text>
<text x="469.0" y="251.5" text-anchor="middle" font-size="6.5" font-weight="bold" font-family="Liberation Sans, sans-serif">-2</text>
<text x="479.5" y="251.5" text-anchor="middle" font-size="6.5" font-weight="bold" font-family="Liberation Sans, sans-serif">0</text>
<text x="489.5" y="251.5" text-anchor="middle" font-size="6.5" font-weight="bold" font-family="Liberation Sans, sans-serif">2</text>
<text x="499.0" y="251.5" text-anchor="middle" font-size="6.5" font-weight="bold" font-family="Liberation Sans, sans-serif">4</text>
</svg>
</body></html>
